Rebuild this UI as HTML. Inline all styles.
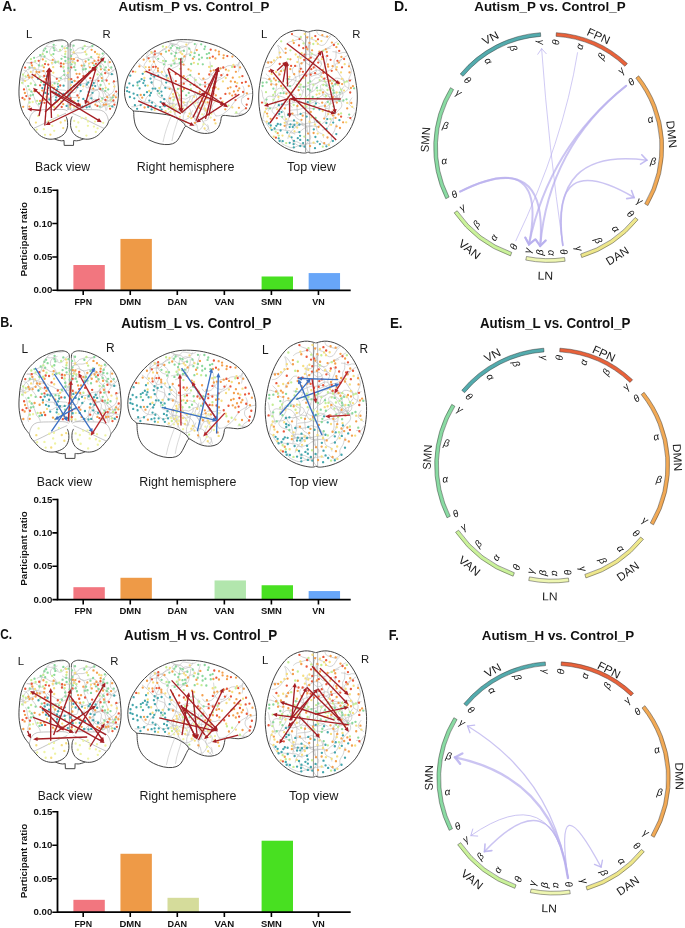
<!DOCTYPE html>
<html><head><meta charset="utf-8"><style>
html,body{margin:0;padding:0;background:#fff;}
svg{display:block;font-family:"Liberation Sans", sans-serif;will-change:transform;}
</style></head><body>
<svg width="685" height="928" viewBox="0 0 685 928">
<defs><g id="bk"><path d="M100.79 108.10C100.81 107.53 101.21 105.72 100.90 104.68C100.58 103.63 99.65 102.70 98.90 101.84C98.15 100.97 97.42 99.85 96.41 99.49C95.40 99.14 93.71 99.16 92.85 99.71C91.99 100.26 91.67 101.72 91.26 102.81C90.85 103.90 90.26 105.14 90.38 106.24C90.50 107.34 91.71 108.88 91.98 109.41M70.57 51.98C71.15 52.13 72.97 52.40 74.06 52.87C75.14 53.34 76.32 53.93 77.07 54.80C77.81 55.67 77.76 57.26 78.54 58.07C79.33 58.88 80.96 58.84 81.76 59.64C82.55 60.44 83.02 61.73 83.33 62.87C83.63 64.00 83.34 65.29 83.58 66.44C83.83 67.60 84.32 68.73 84.80 69.80C85.29 70.87 86.21 72.37 86.49 72.89M99.57 96.20C100.04 96.57 101.42 97.72 102.38 98.45C103.33 99.17 104.22 100.19 105.30 100.55C106.37 100.91 107.74 100.95 108.81 100.61C109.87 100.26 111.03 99.40 111.69 98.48C112.36 97.56 112.22 96.02 112.80 95.06C113.38 94.09 114.78 93.09 115.17 92.69M106.70 104.78C106.77 105.07 107.08 105.95 107.11 106.54C107.14 107.13 106.94 107.72 106.88 108.32C106.82 108.92 106.76 109.82 106.74 110.12M92.33 93.98C91.84 94.27 90.22 94.95 89.37 95.72C88.52 96.49 87.68 97.54 87.22 98.57C86.76 99.60 86.68 100.76 86.61 101.88C86.53 103.00 87.23 104.37 86.78 105.29C86.33 106.22 84.84 106.71 83.89 107.44C82.94 108.17 81.54 109.30 81.07 109.67M102.23 107.33C102.40 106.75 102.65 104.88 103.23 103.87C103.81 102.86 104.69 101.75 105.69 101.29C106.69 100.83 108.06 101.02 109.24 101.11C110.41 101.20 111.58 101.65 112.74 101.85C113.89 102.05 115.61 102.25 116.19 102.33M99.15 87.46C99.59 87.86 100.94 89.03 101.81 89.84C102.68 90.64 103.62 91.40 104.36 92.31C105.11 93.23 105.72 94.34 106.28 95.35C106.84 96.36 107.82 97.38 107.73 98.38C107.63 99.38 106.18 100.27 105.70 101.35C105.22 102.43 105.00 104.27 104.86 104.85M38.31 68.64C38.51 68.10 39.28 66.52 39.50 65.40C39.73 64.28 39.46 63.07 39.67 61.92C39.87 60.77 40.38 59.63 40.75 58.49C41.11 57.36 41.50 56.23 41.87 55.11C42.24 53.98 42.61 52.82 42.97 51.73C43.33 50.63 43.45 49.49 44.04 48.53C44.64 47.56 45.73 46.77 46.54 45.94C47.35 45.12 47.93 44.13 48.90 43.58C49.88 43.04 51.27 43.10 52.38 42.67C53.48 42.24 54.43 41.27 55.55 41.02C56.67 40.77 57.92 41.25 59.10 41.18C60.28 41.11 62.05 40.69 62.64 40.60M57.17 50.08C56.79 49.61 55.87 47.67 54.91 47.29C53.94 46.91 52.26 47.21 51.40 47.77C50.54 48.33 49.96 49.59 49.72 50.65C49.48 51.71 49.51 53.18 49.96 54.14C50.42 55.09 51.66 55.57 52.44 56.40C53.23 57.22 54.22 58.10 54.67 59.09C55.13 60.07 55.07 61.77 55.15 62.31M90.42 89.01C90.99 89.06 92.68 89.12 93.82 89.34C94.97 89.55 96.38 89.75 97.29 90.29C98.20 90.84 98.99 91.65 99.27 92.62C99.54 93.60 99.05 95.00 98.94 96.14C98.83 97.29 98.19 98.59 98.59 99.52C98.98 100.44 100.37 101.00 101.31 101.72C102.25 102.44 103.56 102.92 104.21 103.85C104.87 104.78 104.95 106.13 105.25 107.29C105.55 108.45 105.88 110.22 106.01 110.81M71.75 104.59C71.57 104.83 70.81 105.50 70.66 106.03C70.52 106.57 70.83 107.22 70.90 107.82C70.98 108.41 71.07 109.31 71.10 109.61M103.82 98.20C103.74 97.61 103.61 95.80 103.33 94.65C103.06 93.51 102.84 92.22 102.17 91.35C101.49 90.48 100.34 89.67 99.27 89.44C98.19 89.20 96.76 89.47 95.74 89.94C94.71 90.41 93.98 91.48 93.11 92.28C92.24 93.08 91.06 93.74 90.51 94.74C89.97 95.74 90.28 97.21 89.83 98.27C89.39 99.33 88.48 100.14 87.84 101.09C87.19 102.04 86.70 103.09 85.97 104.00C85.24 104.91 84.43 105.95 83.44 106.56C82.45 107.16 81.16 107.26 80.03 107.63C78.89 108.00 77.75 108.62 76.63 108.79C75.51 108.97 73.86 108.68 73.31 108.65M46.36 71.93C46.80 72.30 47.97 73.56 48.96 74.14C49.95 74.72 51.25 74.89 52.33 75.41C53.40 75.94 54.31 76.88 55.40 77.29C56.48 77.70 57.75 78.07 58.84 77.87C59.94 77.67 61.06 76.84 61.98 76.10C62.90 75.37 63.95 74.47 64.37 73.47C64.79 72.46 64.85 71.07 64.50 70.07C64.15 69.08 62.99 68.41 62.28 67.51C61.56 66.60 61.02 65.49 60.22 64.63C59.42 63.77 58.48 62.71 57.46 62.33C56.43 61.94 55.00 61.87 54.06 62.32C53.11 62.77 52.17 64.60 51.79 65.05M44.24 71.01C43.65 71.13 41.90 71.70 40.73 71.77C39.57 71.84 38.15 71.99 37.25 71.44C36.35 70.88 36.20 69.10 35.32 68.43C34.44 67.76 33.08 67.36 31.96 67.41C30.85 67.46 29.63 68.12 28.61 68.73C27.60 69.34 26.68 70.20 25.87 71.06C25.05 71.92 24.21 72.83 23.72 73.88C23.22 74.93 23.02 76.16 22.91 77.34C22.80 78.51 23.00 79.73 23.04 80.93C23.08 82.13 23.13 83.93 23.15 84.53M53.19 47.44C53.60 47.88 54.72 49.35 55.66 50.05C56.61 50.75 57.83 51.59 58.86 51.65C59.88 51.71 60.98 51.11 61.80 50.40C62.61 49.70 62.95 48.26 63.77 47.42C64.58 46.59 66.21 45.73 66.70 45.39M112.43 82.40C112.71 82.30 113.55 81.98 114.13 81.83C114.71 81.69 115.33 81.67 115.91 81.51C116.48 81.35 117.30 80.97 117.58 80.86M36.64 85.65C36.34 85.14 35.48 83.57 34.82 82.58C34.17 81.59 33.47 80.58 32.68 79.69C31.90 78.80 30.79 78.10 30.10 77.22C29.42 76.34 29.13 75.40 28.58 74.43C28.04 73.45 27.67 72.08 26.82 71.37C25.98 70.66 24.07 70.37 23.52 70.17M20.55 77.50C21.05 77.79 22.53 79.27 23.54 79.25C24.55 79.23 25.54 77.87 26.62 77.38C27.70 76.89 28.89 76.64 30.04 76.31C31.19 75.98 32.45 75.90 33.51 75.41C34.57 74.92 35.47 73.40 36.39 73.35C37.30 73.30 38.56 74.82 38.99 75.11M64.93 73.37C65.33 73.81 66.56 75.14 67.34 76.03C68.12 76.92 68.70 78.01 69.61 78.72C70.52 79.44 71.71 79.92 72.82 80.34C73.93 80.75 75.18 80.79 76.28 81.21C77.39 81.63 78.37 82.40 79.47 82.86C80.56 83.31 81.73 83.94 82.87 83.94C84.00 83.93 85.19 83.30 86.28 82.81C87.36 82.32 88.28 81.39 89.38 80.99C90.48 80.60 91.70 80.62 92.87 80.44C94.04 80.25 95.34 80.36 96.39 79.89C97.44 79.41 98.71 77.98 99.17 77.60M44.14 78.00C43.66 77.69 42.26 76.69 41.24 76.14C40.21 75.58 38.77 75.47 38.00 74.67C37.23 73.87 37.21 72.37 36.65 71.34C36.08 70.31 35.55 69.03 34.62 68.49C33.68 67.95 32.14 67.83 31.04 68.09C29.94 68.36 28.53 69.74 28.03 70.07M29.01 79.19C28.74 79.32 27.92 79.70 27.37 79.93C26.81 80.15 26.26 80.43 25.67 80.54C25.09 80.65 24.46 80.66 23.87 80.59C23.28 80.52 22.71 80.28 22.13 80.14C21.55 80.01 20.66 79.83 20.37 79.77M30.82 90.07C31.14 90.57 32.26 92.03 32.76 93.10C33.25 94.18 33.39 95.39 33.78 96.52C34.16 97.65 34.66 98.75 35.07 99.87C35.47 101.00 35.64 102.26 36.23 103.27C36.83 104.29 38.01 104.98 38.62 105.97C39.23 106.96 39.68 108.67 39.89 109.21M56.53 45.38C55.96 45.55 54.28 46.19 53.11 46.43C51.95 46.66 50.74 46.82 49.55 46.81C48.37 46.80 46.59 46.43 45.99 46.35M91.87 46.93C91.27 46.90 89.48 46.85 88.28 46.76C87.09 46.68 85.87 46.29 84.71 46.40C83.55 46.52 82.46 47.10 81.35 47.45C80.23 47.79 78.96 47.89 77.99 48.49C77.03 49.08 76.41 50.17 75.58 51.00C74.75 51.83 73.77 52.55 73.02 53.47C72.27 54.39 71.33 55.42 71.09 56.50C70.84 57.58 71.14 58.88 71.54 59.95C71.95 61.02 72.79 62.01 73.54 62.93C74.29 63.85 75.64 65.03 76.06 65.45M107.35 73.29C107.65 73.28 108.59 73.37 109.15 73.22C109.71 73.06 110.21 72.64 110.73 72.35C111.25 72.06 111.78 71.77 112.29 71.45C112.80 71.13 113.42 70.90 113.79 70.45C114.15 70.01 114.36 69.07 114.48 68.79M102.61 71.42C102.23 71.89 101.03 73.23 100.33 74.20C99.62 75.17 99.13 76.29 98.40 77.24C97.67 78.18 96.52 78.85 95.94 79.86C95.36 80.87 95.45 82.26 94.90 83.30C94.35 84.34 93.57 85.38 92.66 86.11C91.75 86.84 90.52 87.44 89.42 87.68C88.32 87.92 86.62 88.03 86.04 87.55C85.47 87.08 86.00 85.29 85.99 84.84M64.53 63.10C65.13 63.11 66.97 63.32 68.13 63.14C69.29 62.97 70.57 62.68 71.51 62.03C72.44 61.38 72.91 60.04 73.75 59.25C74.58 58.47 75.51 57.40 76.50 57.31C77.48 57.23 78.54 58.36 79.64 58.73C80.75 59.11 81.96 59.62 83.11 59.58C84.26 59.54 85.39 58.76 86.53 58.49C87.68 58.22 88.84 57.91 89.99 57.95C91.14 57.99 92.66 58.08 93.43 58.73C94.20 59.39 94.42 61.36 94.61 61.88M32.56 73.21C32.65 72.62 33.14 70.85 33.12 69.68C33.10 68.50 32.95 67.18 32.43 66.16C31.92 65.15 30.97 64.20 30.03 63.60C29.09 62.99 27.32 62.71 26.78 62.54M112.83 82.43C113.13 82.94 114.39 84.42 114.63 85.53C114.87 86.64 114.57 87.94 114.26 89.08C113.95 90.21 113.51 91.44 112.78 92.34C112.06 93.24 110.90 93.87 109.90 94.49C108.91 95.10 107.81 95.46 106.80 96.04C105.80 96.62 104.36 97.64 103.87 97.95M55.87 94.58C55.51 94.15 54.11 93.02 53.71 92.00C53.31 90.97 53.69 89.59 53.45 88.43C53.21 87.27 52.83 86.08 52.27 85.03C51.71 83.99 50.77 83.13 50.11 82.16C49.45 81.19 48.94 80.16 48.30 79.21C47.65 78.26 46.72 77.47 46.24 76.43C45.76 75.39 46.00 73.94 45.41 72.97C44.83 72.00 43.77 71.11 42.75 70.62C41.73 70.12 40.43 70.27 39.29 70.00C38.14 69.73 36.97 68.90 35.86 68.99C34.76 69.08 33.17 70.29 32.63 70.56M42.27 84.86C42.74 84.48 44.01 83.01 45.06 82.58C46.10 82.16 47.38 82.37 48.54 82.30C49.71 82.22 50.88 82.17 52.06 82.15C53.24 82.13 54.51 82.28 55.62 82.16C56.72 82.05 57.69 81.87 58.70 81.46C59.71 81.06 60.62 80.22 61.68 79.74C62.73 79.25 63.89 78.74 65.04 78.57C66.19 78.39 67.99 78.67 68.58 78.69M83.41 89.01C82.95 89.39 81.38 90.39 80.64 91.28C79.90 92.18 79.62 93.42 78.97 94.40C78.32 95.37 77.71 96.62 76.73 97.13C75.76 97.64 74.32 97.57 73.15 97.46C71.99 97.34 70.63 97.12 69.74 96.45C68.85 95.77 68.45 94.41 67.80 93.43C67.14 92.44 66.72 91.09 65.81 90.54C64.90 90.00 63.50 90.27 62.32 90.13C61.14 90.00 59.93 89.77 58.75 89.72C57.56 89.68 55.79 89.84 55.20 89.86M106.18 101.71C106.59 102.14 107.73 103.53 108.64 104.30C109.54 105.08 110.61 105.75 111.61 106.33C112.61 106.92 114.15 107.57 114.66 107.82M36.37 57.59C36.93 57.36 38.61 56.37 39.70 56.25C40.78 56.12 41.77 56.55 42.86 56.86C43.95 57.17 45.16 57.58 46.22 58.10C47.28 58.63 48.13 59.60 49.21 60.01C50.29 60.43 51.53 60.39 52.70 60.60C53.87 60.81 55.10 60.93 56.24 61.28C57.37 61.63 58.58 62.04 59.52 62.72C60.45 63.40 61.45 64.91 61.84 65.35M88.41 67.00C88.54 66.43 88.52 64.36 89.14 63.54C89.76 62.73 91.04 62.46 92.13 62.12C93.22 61.78 94.54 61.38 95.67 61.49C96.81 61.59 97.84 62.34 98.93 62.76C100.02 63.18 101.37 63.32 102.23 63.99C103.10 64.67 103.64 65.77 104.12 66.82C104.60 67.86 104.59 69.21 105.11 70.27C105.63 71.33 106.35 72.48 107.24 73.16C108.13 73.85 109.30 74.18 110.42 74.37C111.55 74.55 113.40 74.27 113.99 74.25M28.39 109.66C28.24 109.08 27.49 107.29 27.52 106.17C27.54 105.05 28.28 104.08 28.53 102.95C28.77 101.82 29.07 100.56 29.00 99.39C28.93 98.21 28.41 97.06 28.11 95.90C27.81 94.74 27.44 93.60 27.20 92.42C26.96 91.25 26.98 90.02 26.67 88.87C26.36 87.72 25.56 86.08 25.34 85.52M90.53 87.38C90.60 87.97 90.72 89.74 90.93 90.91C91.13 92.08 91.56 93.21 91.76 94.38C91.96 95.55 91.92 96.80 92.11 97.94C92.31 99.08 92.28 100.51 92.92 101.22C93.57 101.93 94.90 102.16 95.98 102.19C97.07 102.21 98.33 101.71 99.45 101.37C100.56 101.04 102.15 100.38 102.69 100.18M70.22 55.11C70.77 54.89 72.42 54.18 73.54 53.81C74.67 53.43 75.81 53.00 76.97 52.86C78.13 52.71 79.34 53.08 80.51 52.94C81.68 52.81 82.97 52.60 83.99 52.04C85.01 51.49 85.76 50.41 86.64 49.61C87.52 48.81 88.33 47.94 89.27 47.23C90.22 46.52 91.80 45.68 92.31 45.37M85.62 62.63C85.22 63.08 83.81 64.32 83.25 65.33C82.69 66.34 82.35 67.56 82.26 68.69C82.16 69.82 82.37 70.99 82.68 72.11C82.99 73.22 83.65 74.30 84.13 75.39C84.62 76.49 85.14 77.56 85.60 78.67C86.06 79.77 86.57 80.91 86.90 82.02C87.23 83.13 87.07 84.32 87.57 85.33C88.07 86.34 89.08 87.20 89.90 88.07C90.73 88.94 91.52 90.13 92.53 90.53C93.53 90.93 94.91 90.86 95.95 90.49C97.00 90.12 98.00 89.20 98.78 88.32C99.56 87.45 100.34 85.76 100.65 85.25M79.16 82.28C78.83 82.77 77.58 84.17 77.14 85.25C76.71 86.34 76.83 87.64 76.55 88.80C76.27 89.96 76.25 91.59 75.48 92.24C74.71 92.88 73.11 92.69 71.93 92.67C70.74 92.65 69.49 91.91 68.37 92.09C67.26 92.27 66.32 93.29 65.24 93.74C64.16 94.19 63.04 94.46 61.91 94.78C60.77 95.10 59.60 95.53 58.42 95.65C57.24 95.76 55.94 95.19 54.83 95.46C53.72 95.73 52.84 96.87 51.74 97.28C50.64 97.69 48.80 97.81 48.21 97.92M100.03 75.09C100.26 75.61 100.66 77.35 101.38 78.20C102.09 79.04 103.38 80.21 104.33 80.15C105.28 80.10 106.34 78.78 107.08 77.87C107.82 76.96 108.73 75.78 108.77 74.70C108.82 73.62 108.11 72.27 107.36 71.41C106.61 70.55 105.30 70.18 104.28 69.55C103.26 68.91 102.10 68.42 101.25 67.60C100.41 66.79 99.99 65.55 99.22 64.64C98.45 63.72 97.07 62.55 96.64 62.13M113.59 71.12C113.13 70.73 111.70 69.63 110.84 68.80C109.97 67.98 108.85 67.19 108.39 66.18C107.92 65.16 107.99 63.84 108.06 62.68C108.12 61.53 108.65 59.83 108.77 59.26M99.99 65.97C100.06 65.38 100.26 63.62 100.39 62.43C100.52 61.24 100.32 59.91 100.77 58.85C101.22 57.79 102.33 57.02 103.07 56.09C103.82 55.15 104.87 53.70 105.23 53.22M105.98 96.79C106.55 96.96 108.25 97.74 109.42 97.82C110.59 97.91 111.89 97.65 112.98 97.31C114.07 96.96 115.19 96.54 115.98 95.78C116.77 95.01 117.42 93.20 117.71 92.69M65.08 81.80C65.06 81.20 64.70 79.32 65.00 78.21C65.29 77.11 66.16 76.13 66.85 75.19C67.53 74.24 68.47 73.51 69.11 72.53C69.74 71.55 69.90 70.20 70.63 69.31C71.37 68.42 72.78 68.04 73.52 67.17C74.26 66.31 75.05 65.15 75.07 64.11C75.08 63.07 74.34 61.73 73.61 60.91C72.88 60.09 71.70 59.76 70.70 59.17C69.69 58.58 68.70 57.74 67.59 57.37C66.48 57.00 65.12 57.32 64.04 56.94C62.96 56.57 61.60 55.41 61.11 55.11M97.59 76.98C97.63 77.58 97.86 79.44 97.81 80.57C97.75 81.70 97.14 82.69 97.25 83.78C97.36 84.87 98.00 86.02 98.48 87.11C98.96 88.19 99.28 89.64 100.14 90.28C101.01 90.91 102.54 90.59 103.68 90.92C104.82 91.25 106.05 91.58 106.98 92.26C107.91 92.94 108.65 94.04 109.28 95.01C109.91 95.99 110.27 97.09 110.76 98.14C111.25 99.18 112.40 100.36 112.20 101.26C112.01 102.17 110.55 102.92 109.57 103.56C108.59 104.20 107.39 104.59 106.31 105.09C105.24 105.59 104.19 106.06 103.12 106.57C102.05 107.09 100.44 107.92 99.90 108.19M74.82 54.30C74.63 53.75 74.09 52.10 73.72 50.97C73.35 49.85 72.91 48.70 72.60 47.55C72.28 46.41 71.95 44.68 71.82 44.11M42.69 66.22C42.09 66.13 40.13 66.16 39.13 65.68C38.13 65.21 37.65 63.96 36.69 63.36C35.72 62.77 34.46 62.26 33.31 62.10C32.17 61.94 31.01 62.27 29.84 62.40C28.67 62.54 26.87 62.82 26.28 62.90M61.33 93.41C60.74 93.53 58.88 94.32 57.80 94.11C56.72 93.89 55.84 92.76 54.84 92.12C53.84 91.48 52.89 90.56 51.78 90.25C50.67 89.95 49.34 90.50 48.19 90.27C47.04 90.04 45.43 89.09 44.88 88.85M95.38 65.11C95.50 65.69 95.67 67.51 96.11 68.60C96.56 69.68 97.27 70.76 98.07 71.61C98.88 72.46 100.15 72.86 100.95 73.71C101.75 74.55 102.53 75.57 102.88 76.66C103.23 77.75 102.79 79.09 103.04 80.23C103.28 81.38 103.92 82.43 104.36 83.52C104.81 84.60 105.49 86.20 105.71 86.73" stroke="#bdbdbd" stroke-width="0.65" fill="none"/><path d="M68.1 46V110.0M70.1 46V110.0" stroke="#7a7a7a" stroke-width="0.7" fill="none"/><path d="M68.10 46.50C68.07 46.02 68.12 44.37 67.90 43.60C67.68 42.83 67.35 42.40 66.80 41.90C66.25 41.40 65.62 40.93 64.60 40.60C63.58 40.27 62.63 39.83 60.70 39.90C58.77 39.97 55.50 40.38 53.00 41.00C50.50 41.62 48.12 42.52 45.70 43.60C43.28 44.68 40.70 46.02 38.50 47.50C36.30 48.98 34.33 50.75 32.50 52.50C30.67 54.25 28.95 56.10 27.50 58.00C26.05 59.90 24.85 61.73 23.80 63.90C22.75 66.07 21.87 68.48 21.20 71.00C20.53 73.52 20.15 76.33 19.80 79.00C19.45 81.67 19.23 84.33 19.10 87.00C18.97 89.67 18.88 92.50 19.00 95.00C19.12 97.50 19.43 99.83 19.80 102.00C20.17 104.17 20.53 105.95 21.20 108.00C21.87 110.05 22.92 112.60 23.80 114.30C24.68 116.00 25.63 117.03 26.50 118.20C27.37 119.37 28.58 120.78 29.00 121.30M70.08 46.50C70.12 46.02 70.07 44.37 70.28 43.60C70.50 42.83 70.82 42.40 71.37 41.90C71.91 41.40 72.53 40.93 73.53 40.60C74.53 40.27 75.47 39.83 77.37 39.90C79.28 39.97 82.50 40.38 84.96 41.00C87.42 41.62 89.77 42.52 92.15 43.60C94.53 44.68 97.07 46.02 99.24 47.50C101.41 48.98 103.35 50.75 105.15 52.50C106.96 54.25 108.65 56.10 110.08 58.00C111.50 59.90 112.69 61.73 113.72 63.90C114.75 66.07 115.62 68.48 116.28 71.00C116.94 73.52 117.32 76.33 117.66 79.00C118.01 81.67 118.22 84.33 118.35 87.00C118.48 89.67 118.56 92.50 118.45 95.00C118.33 97.50 118.02 99.83 117.66 102.00C117.30 104.17 116.94 105.95 116.28 108.00C115.62 110.05 114.59 112.60 113.72 114.30C112.85 116.00 111.91 117.03 111.06 118.20C110.21 119.37 109.01 120.78 108.60 121.30M29.00 121.30C29.25 121.92 29.77 123.80 30.50 125.00C31.23 126.20 32.18 127.08 33.40 128.50C34.62 129.92 36.45 132.17 37.80 133.50C39.15 134.83 40.18 135.68 41.50 136.50C42.82 137.32 44.28 137.95 45.70 138.40C47.12 138.85 48.55 139.12 50.00 139.20C51.45 139.28 52.98 139.17 54.40 138.90C55.82 138.63 57.30 138.08 58.50 137.60C59.70 137.12 60.60 136.68 61.60 136.00C62.60 135.32 63.68 134.50 64.50 133.50C65.32 132.50 65.98 131.30 66.50 130.00C67.02 128.70 67.47 127.37 67.60 125.70C67.73 124.03 67.57 121.53 67.30 120.00C67.03 118.47 66.22 117.08 66.00 116.50M108.60 121.30C108.35 121.92 107.84 123.80 107.12 125.00C106.40 126.20 105.46 127.08 104.26 128.50C103.07 129.92 101.26 132.17 99.93 133.50C98.60 134.83 97.58 135.68 96.29 136.50C94.99 137.32 93.54 137.95 92.15 138.40C90.75 138.85 89.34 139.12 87.91 139.20C86.49 139.28 84.97 139.17 83.58 138.90C82.18 138.63 80.72 138.08 79.54 137.60C78.36 137.12 77.47 136.68 76.49 136.00C75.50 135.32 74.44 134.50 73.63 133.50C72.83 132.50 72.17 131.30 71.66 130.00C71.15 128.70 70.71 127.37 70.58 125.70C70.45 124.03 70.61 121.53 70.87 120.00C71.14 118.47 71.94 117.08 72.15 116.50M54.40 138.90C55.00 139.12 56.82 139.88 58.00 140.20C59.18 140.52 60.50 140.75 61.50 140.80C62.50 140.85 63.58 140.55 64.00 140.50M83.58 138.90C82.99 139.12 81.20 139.88 80.03 140.20C78.87 140.52 77.57 140.75 76.59 140.80C75.60 140.85 74.53 140.55 74.12 140.50M64.0 140.3L64.2 145.4L73.5 145.4L73.7 140.3" stroke="#3d3d3d" stroke-width="0.95" fill="none"/><path d="M29.00 121.30C29.22 120.50 29.72 117.92 30.30 116.50C30.88 115.08 31.55 113.78 32.50 112.80C33.45 111.82 34.58 111.10 36.00 110.60C37.42 110.10 38.67 109.97 41.00 109.80C43.33 109.63 47.17 109.67 50.00 109.60C52.83 109.53 55.67 109.40 58.00 109.40C60.33 109.40 62.42 109.33 64.00 109.60C65.58 109.87 66.92 110.77 67.50 111.00M108.60 121.30C108.39 120.50 107.89 117.92 107.32 116.50C106.74 115.08 106.09 113.78 105.15 112.80C104.22 111.82 103.10 111.10 101.70 110.60C100.31 110.10 99.08 109.97 96.78 109.80C94.48 109.63 90.70 109.67 87.91 109.60C85.12 109.53 82.33 109.40 80.03 109.40C77.74 109.40 75.68 109.33 74.12 109.60C72.56 109.87 71.25 110.77 70.68 111.00M33.40 128.50C34.83 127.83 38.90 126.00 42.00 124.50C45.10 123.00 49.00 120.95 52.00 119.50C55.00 118.05 57.67 116.85 60.00 115.80C62.33 114.75 65.00 113.63 66.00 113.20M104.26 128.50C102.85 127.83 98.85 126.00 95.79 124.50C92.74 123.00 88.90 120.95 85.94 119.50C82.99 118.05 80.36 116.85 78.06 115.80C75.77 114.75 73.14 113.63 72.15 113.20" stroke="#8a8a8a" stroke-width="0.5" fill="none"/><path d="M51.3 55.1h0M37.1 100.9h0M30.8 83.5h0M97.6 74.4h0M110.6 99.8h0M63.5 67.0h0M84.7 46.0h0M45.8 61.3h0M35.2 61.1h0M68.6 62.4h0M42.5 65.3h0M58.2 61.7h0M39.7 77.0h0M22.1 82.8h0M29.3 89.6h0M31.0 59.2h0M29.6 102.5h0M25.6 76.4h0M81.8 81.0h0M23.0 74.7h0M109.4 106.2h0M65.2 54.1h0M75.0 63.1h0M60.1 49.9h0M86.4 54.4h0M42.8 54.2h0" stroke="#C4EE93" stroke-width="2.30" stroke-linecap="round" fill="none"/><path d="M26.3 96.1h0M31.4 62.8h0M113.4 100.5h0M70.4 104.8h0M98.5 80.8h0M44.2 76.0h0M38.7 60.8h0M48.3 64.6h0M70.7 98.2h0M29.7 98.7h0M113.9 81.4h0M77.4 95.4h0M106.6 80.5h0M116.2 91.6h0M25.1 67.6h0M77.7 77.4h0M71.3 79.1h0M43.8 81.6h0M60.9 66.4h0M56.8 78.8h0M24.0 89.4h0M114.4 104.7h0M22.5 97.9h0M44.5 102.8h0M77.7 60.7h0M71.2 67.3h0M45.0 64.1h0M90.3 78.2h0M60.2 85.5h0M67.9 91.3h0M97.4 105.9h0M83.4 76.1h0M61.0 63.3h0M100.3 88.9h0M61.7 106.9h0M40.1 85.3h0M50.7 70.9h0M88.4 102.5h0M110.1 108.8h0M105.4 99.9h0M98.4 60.3h0M95.9 63.8h0M105.2 73.2h0" stroke="#E9583B" stroke-width="2.30" stroke-linecap="round" fill="none"/><path d="M24.9 93.0h0M43.4 100.2h0M34.2 91.1h0M100.9 69.3h0M32.0 65.4h0M42.3 90.6h0M29.4 106.6h0M35.2 75.2h0M29.2 77.7h0M106.1 104.4h0M113.7 95.3h0M92.7 63.1h0M54.3 87.8h0M98.6 57.4h0M63.2 104.2h0M52.8 59.8h0M52.1 105.4h0M39.2 72.2h0M94.7 69.9h0M73.9 59.2h0M115.9 97.3h0M39.1 92.8h0M32.3 77.4h0M95.4 104.7h0M40.1 100.9h0M108.8 69.9h0M43.9 67.3h0M74.6 81.0h0M28.1 75.4h0M79.5 73.9h0M63.6 63.9h0M76.6 73.8h0M78.8 97.6h0M23.2 106.8h0M36.5 71.9h0M93.2 88.6h0M89.9 67.3h0M94.5 60.8h0M103.8 104.8h0M42.8 59.4h0M91.6 49.8h0M81.7 65.6h0M95.0 52.0h0M45.7 79.1h0M43.5 71.1h0M88.0 95.5h0M107.2 97.1h0M80.0 104.7h0M24.5 99.4h0M71.0 89.8h0M78.6 81.3h0M85.6 61.5h0M71.5 58.8h0M109.8 62.2h0M101.8 78.1h0" stroke="#F4A04E" stroke-width="2.30" stroke-linecap="round" fill="none"/><path d="M62.2 46.4h0M104.5 69.8h0M65.0 56.9h0M63.8 97.5h0M34.1 57.8h0M60.8 78.3h0M67.2 48.1h0M55.4 62.5h0M91.2 57.1h0M101.3 61.5h0M102.7 53.6h0M35.2 85.0h0M29.5 67.3h0M96.6 67.8h0M100.6 66.5h0M64.3 75.1h0M111.3 67.5h0M71.5 64.4h0M100.6 85.0h0M102.1 80.9h0M53.7 44.8h0M44.5 56.4h0M85.8 69.0h0M45.4 48.6h0M33.0 94.8h0M102.3 98.5h0M64.0 71.2h0M112.7 97.5h0M83.2 69.5h0M105.0 62.0h0M108.2 89.4h0M43.8 50.6h0M89.2 71.7h0M68.4 58.9h0M94.0 65.3h0M38.9 65.4h0M73.6 45.7h0M82.7 48.7h0M54.6 83.4h0M41.2 82.1h0M101.6 58.5h0M28.2 86.1h0M30.6 95.5h0M54.4 50.3h0M39.0 103.8h0M53.4 54.1h0M92.4 46.0h0M71.1 56.1h0M70.8 49.8h0M99.7 106.6h0M61.5 58.8h0M84.4 65.6h0M74.3 67.2h0M102.8 88.8h0M40.2 55.2h0M75.5 70.1h0M101.4 74.4h0M53.6 48.1h0M65.4 61.0h0M105.3 90.8h0M68.4 68.2h0M105.9 67.4h0M88.6 59.8h0M31.3 91.6h0M46.9 52.0h0M57.8 83.8h0" stroke="#8BD89D" stroke-width="2.30" stroke-linecap="round" fill="none"/><path d="M30.8 71.9h0M53.2 67.2h0M51.9 62.8h0M114.3 86.6h0M99.3 54.6h0M109.1 83.8h0M65.5 51.6h0M89.1 63.6h0M53.3 72.7h0M25.1 80.9h0M85.2 51.9h0M83.3 86.3h0M72.6 62.1h0M59.0 81.0h0M69.0 79.4h0M70.1 107.1h0M54.2 107.0h0M73.7 52.3h0M97.1 54.0h0M61.1 101.5h0M64.8 48.3h0M105.7 87.8h0M34.6 67.9h0M68.0 72.9h0M52.4 85.4h0M46.3 96.8h0M70.9 85.2h0M60.7 122.5h0M50.4 134.7h0M63.2 128.1h0M65.0 120.6h0M35.9 122.6h0" stroke="#F5DE80" stroke-width="2.30" stroke-linecap="round" fill="none"/><path d="M56.2 97.3h0M86.8 84.5h0M77.4 87.3h0M78.2 100.8h0M46.8 83.2h0M69.0 95.6h0M91.3 98.3h0M74.2 85.9h0M89.4 106.7h0M48.3 87.9h0M57.1 89.5h0M49.4 99.5h0M48.0 94.0h0M38.0 78.8h0M93.7 83.0h0M71.3 101.1h0M41.3 103.0h0M92.6 92.8h0M46.9 76.4h0M44.1 84.8h0M88.3 82.6h0M56.0 92.7h0M58.9 94.2h0M49.6 83.7h0M63.6 85.7h0M80.7 91.1h0M45.3 92.9h0M95.2 86.1h0M80.4 85.0h0M83.3 98.9h0M72.0 82.2h0M88.7 92.1h0M42.3 88.1h0M96.1 100.7h0M92.1 85.3h0M86.7 107.3h0M82.5 106.7h0M111.8 74.2h0M55.7 100.2h0M58.2 86.7h0M66.6 105.9h0M63.5 93.9h0M112.3 106.4h0" stroke="#44A6AD" stroke-width="2.30" stroke-linecap="round" fill="none"/><path d="M101.3 101.2h0M74.0 107.2h0M74.3 100.8h0M57.6 102.0h0M32.7 102.0h0M54.2 130.8h0M48.5 121.2h0M57.9 115.5h0M45.0 134.8h0M36.7 129.6h0M43.8 129.2h0M52.3 125.8h0M38.1 116.0h0M53.1 120.3h0M95.8 131.9h0M79.1 131.0h0M95.0 121.6h0M93.9 126.6h0M81.7 118.2h0M85.8 117.9h0M74.2 120.9h0M78.3 122.5h0M87.9 125.8h0M103.2 122.8h0M86.4 135.6h0M76.3 127.0h0M88.0 121.5h0M97.6 128.3h0" stroke="#EEF4A4" stroke-width="2.30" stroke-linecap="round" fill="none"/></g><g id="sd"><path d="M184.67 48.98C184.18 49.31 182.73 50.74 181.68 50.98C180.63 51.22 179.22 51.01 178.37 50.39C177.53 49.78 177.41 48.14 176.64 47.27C175.87 46.41 174.77 45.80 173.75 45.20C172.73 44.60 171.52 44.21 170.53 43.67C169.54 43.13 168.26 42.25 167.81 41.96M209.97 61.58C210.03 62.18 210.26 63.96 210.33 65.16C210.41 66.36 210.36 67.57 210.41 68.76C210.46 69.95 210.37 71.17 210.63 72.31C210.89 73.45 211.24 74.78 211.99 75.62C212.73 76.46 214.00 76.96 215.11 77.35C216.22 77.73 217.54 78.12 218.66 77.93C219.78 77.74 221.04 77.05 221.83 76.23C222.62 75.42 223.15 73.58 223.42 73.05M154.14 78.43C153.73 77.99 152.52 76.65 151.68 75.80C150.84 74.95 149.90 74.20 149.08 73.34C148.25 72.48 147.54 71.50 146.72 70.63C145.90 69.77 145.02 68.95 144.15 68.14C143.27 67.33 142.40 66.54 141.47 65.79C140.54 65.04 139.06 64.01 138.58 63.65M194.16 116.60C194.75 116.56 196.62 116.11 197.71 116.37C198.80 116.63 199.85 117.40 200.71 118.17C201.58 118.94 202.46 119.98 202.90 120.99C203.34 121.99 203.54 123.11 203.36 124.19C203.18 125.27 202.49 126.47 201.84 127.45C201.19 128.43 200.38 129.54 199.44 130.08C198.51 130.61 196.75 130.58 196.22 130.68M237.02 66.63C237.14 66.36 237.47 65.52 237.72 64.97C237.97 64.43 238.27 63.90 238.53 63.37C238.80 62.83 239.18 62.01 239.31 61.74M195.29 95.20C194.70 95.30 192.86 95.43 191.75 95.80C190.63 96.18 189.65 96.89 188.60 97.45C187.55 98.01 186.55 99.02 185.44 99.16C184.33 99.30 183.09 98.25 181.95 98.30C180.80 98.35 179.64 99.57 178.55 99.46C177.47 99.36 176.56 98.03 175.45 97.66C174.34 97.29 172.78 96.80 171.88 97.24C170.98 97.69 170.44 99.26 170.07 100.35C169.70 101.44 169.67 102.62 169.67 103.78C169.67 104.95 169.48 106.46 170.07 107.31C170.67 108.17 172.38 108.22 173.25 108.94C174.11 109.66 175.05 110.61 175.26 111.65C175.46 112.68 174.60 114.57 174.47 115.16M242.79 85.79C243.00 86.35 243.82 88.00 244.04 89.13C244.26 90.27 244.23 91.46 244.09 92.60C243.95 93.75 243.62 94.91 243.20 96.01C242.78 97.10 241.84 98.05 241.57 99.17C241.31 100.29 241.29 101.66 241.62 102.73C241.95 103.80 242.79 104.69 243.54 105.59C244.29 106.48 245.70 107.68 246.13 108.09M155.50 50.81C155.01 51.14 153.52 52.13 152.52 52.79C151.53 53.45 150.49 54.05 149.54 54.77C148.58 55.49 147.22 56.14 146.80 57.11C146.39 58.08 147.37 59.54 147.05 60.60C146.73 61.65 145.42 62.38 144.87 63.41C144.31 64.45 143.91 66.26 143.72 66.82M173.31 86.69C172.88 86.28 171.59 85.05 170.73 84.23C169.86 83.41 168.78 82.69 168.11 81.76C167.43 80.84 166.95 79.79 166.68 78.68C166.40 77.57 166.76 76.22 166.45 75.10C166.14 73.98 165.28 73.04 164.82 71.95C164.36 70.85 163.65 69.62 163.71 68.53C163.77 67.44 165.02 66.52 165.19 65.41C165.36 64.29 164.84 63.03 164.71 61.84C164.58 60.65 164.93 59.23 164.42 58.26C163.92 57.30 162.57 56.86 161.70 56.07C160.83 55.28 160.20 54.06 159.21 53.53C158.21 53.01 156.88 53.15 155.73 52.92C154.58 52.69 153.38 52.50 152.29 52.16C151.19 51.82 149.67 51.09 149.15 50.88M193.64 122.36C194.12 122.67 195.88 123.35 196.51 124.24C197.13 125.13 197.08 126.57 197.38 127.69C197.69 128.82 198.17 130.44 198.33 130.99M168.65 73.83C169.06 74.26 170.35 75.52 171.11 76.40C171.86 77.28 172.81 78.06 173.17 79.11C173.53 80.16 173.25 81.54 173.27 82.71C173.30 83.87 173.44 84.94 173.30 86.08C173.16 87.23 172.77 88.44 172.44 89.58C172.11 90.71 171.81 91.82 171.30 92.87C170.79 93.93 169.92 94.85 169.39 95.91C168.87 96.97 168.21 98.09 168.15 99.22C168.09 100.36 168.36 101.88 169.04 102.71C169.71 103.54 171.47 103.40 172.22 104.20C172.97 104.99 172.85 106.58 173.53 107.47C174.21 108.35 175.30 108.92 176.30 109.52C177.30 110.12 178.50 110.53 179.54 111.07C180.59 111.62 181.48 112.55 182.58 112.79C183.68 113.03 185.55 112.56 186.14 112.51M192.76 41.78C192.19 41.96 190.50 42.82 189.34 42.90C188.19 42.98 186.98 42.45 185.82 42.26C184.65 42.07 183.50 41.88 182.34 41.75C181.19 41.62 179.85 41.08 178.88 41.49C177.91 41.90 177.51 43.80 176.53 44.22C175.55 44.64 174.14 44.27 173.02 44.00C171.90 43.72 170.33 42.80 169.79 42.56M175.27 62.95C175.18 62.44 174.75 60.99 174.71 59.92C174.67 58.84 174.84 57.63 175.02 56.47C175.20 55.31 175.59 54.11 175.80 52.97C176.02 51.82 175.82 50.51 176.32 49.60C176.82 48.68 177.86 48.07 178.80 47.48C179.74 46.89 180.84 46.18 181.96 46.05C183.07 45.92 184.35 46.48 185.49 46.72C186.64 46.97 187.99 46.87 188.83 47.52C189.67 48.18 190.40 49.59 190.53 50.63C190.66 51.66 190.32 53.11 189.60 53.72C188.87 54.34 187.17 53.82 186.20 54.31C185.23 54.81 184.34 55.73 183.76 56.70C183.19 57.68 183.21 59.04 182.74 60.14C182.28 61.23 181.27 62.75 180.97 63.27M238.39 72.14C238.50 71.55 238.98 69.80 239.04 68.62C239.11 67.43 238.67 66.20 238.78 65.03C238.88 63.85 239.54 62.14 239.69 61.56M216.47 116.42C216.10 115.95 214.83 114.62 214.26 113.60C213.69 112.57 213.60 111.30 213.06 110.26C212.51 109.23 211.84 108.16 210.98 107.37C210.12 106.58 208.82 106.25 207.89 105.52C206.96 104.78 206.26 103.27 205.38 102.96C204.51 102.65 203.39 103.09 202.65 103.66C201.91 104.24 201.25 105.38 200.94 106.40C200.63 107.41 200.83 109.20 200.81 109.76M152.46 63.56C152.26 64.12 151.35 65.76 151.23 66.91C151.11 68.06 151.27 69.43 151.75 70.46C152.23 71.49 153.15 72.74 154.12 73.09C155.08 73.45 156.44 72.73 157.52 72.61C158.61 72.50 159.76 71.95 160.62 72.41C161.47 72.87 161.78 74.61 162.65 75.38C163.52 76.14 164.79 76.45 165.86 76.99C166.92 77.53 168.09 77.94 169.04 78.62C169.99 79.29 170.72 80.27 171.56 81.04C172.41 81.82 173.13 82.72 174.13 83.25C175.13 83.79 176.44 84.36 177.54 84.27C178.65 84.18 179.64 83.08 180.77 82.71C181.90 82.35 183.14 82.30 184.31 82.08C185.48 81.86 187.21 81.49 187.79 81.37M200.78 109.21C200.52 108.68 199.71 107.11 199.19 106.04C198.67 104.97 197.67 103.89 197.65 102.80C197.63 101.71 198.76 100.63 199.06 99.50C199.36 98.38 199.40 97.21 199.46 96.03C199.52 94.86 199.35 93.64 199.42 92.46C199.49 91.28 199.80 89.55 199.87 88.97M205.13 104.77C204.93 105.33 203.96 107.03 203.90 108.14C203.84 109.25 204.11 110.58 204.76 111.44C205.41 112.29 207.18 112.39 207.82 113.28C208.47 114.16 208.73 115.61 208.65 116.74C208.57 117.86 208.09 119.35 207.35 120.03C206.60 120.72 204.71 120.71 204.18 120.85M149.81 82.20C150.31 82.53 152.14 83.30 152.82 84.17C153.51 85.05 153.98 86.35 153.94 87.45C153.90 88.55 153.13 89.72 152.58 90.78C152.03 91.84 151.43 92.94 150.64 93.81C149.85 94.68 148.64 95.15 147.84 96.01C147.05 96.86 146.39 97.88 145.86 98.93C145.33 99.99 145.34 101.40 144.66 102.32C143.98 103.25 142.85 103.96 141.79 104.49C140.74 105.02 139.47 105.13 138.34 105.50C137.22 105.87 136.20 106.51 135.05 106.71C133.91 106.90 132.06 106.68 131.46 106.67M152.60 101.76C152.04 101.91 150.37 102.55 149.21 102.67C148.05 102.79 146.78 102.73 145.63 102.48C144.47 102.23 143.28 101.82 142.29 101.19C141.31 100.55 140.46 99.61 139.71 98.69C138.96 97.77 138.11 96.16 137.79 95.65M218.22 98.99C217.64 98.88 215.89 98.18 214.79 98.29C213.68 98.40 212.72 99.54 211.60 99.67C210.48 99.80 209.26 99.11 208.08 99.05C206.90 98.99 205.59 98.89 204.52 99.29C203.46 99.70 202.69 100.94 201.68 101.49C200.67 102.04 199.53 102.65 198.47 102.61C197.40 102.58 195.82 101.51 195.29 101.29M215.17 115.74C215.77 115.74 217.60 115.96 218.76 115.76C219.92 115.57 221.11 115.13 222.14 114.58C223.17 114.03 224.01 113.17 224.97 112.47C225.93 111.76 227.00 111.13 227.89 110.35C228.77 109.58 229.56 108.73 230.29 107.80C231.01 106.87 231.57 105.77 232.26 104.79C232.94 103.81 233.67 102.86 234.41 101.91C235.14 100.97 235.78 99.91 236.66 99.13C237.55 98.35 238.67 97.84 239.69 97.24C240.71 96.64 241.83 96.21 242.78 95.52C243.74 94.83 245.00 93.50 245.44 93.10M160.59 76.60C160.72 77.18 161.26 78.92 161.40 80.11C161.54 81.29 161.57 82.54 161.42 83.71C161.26 84.88 160.78 85.98 160.47 87.12C160.16 88.27 160.11 89.56 159.56 90.58C159.01 91.61 157.35 92.30 157.19 93.28C157.02 94.27 157.83 95.72 158.60 96.50C159.37 97.27 160.71 97.54 161.83 97.91C162.95 98.28 164.46 98.04 165.30 98.71C166.14 99.37 166.15 101.01 166.89 101.92C167.62 102.83 169.08 103.21 169.69 104.16C170.30 105.12 170.42 107.05 170.57 107.63M171.82 68.61C172.37 68.38 174.04 67.75 175.12 67.23C176.19 66.71 177.33 66.20 178.27 65.49C179.21 64.79 179.82 63.59 180.76 62.99C181.69 62.39 183.12 62.58 183.90 61.88C184.68 61.17 185.08 59.89 185.43 58.78C185.77 57.67 185.68 56.39 185.95 55.22C186.21 54.05 186.83 52.95 187.00 51.78C187.17 50.61 186.99 48.81 186.99 48.21M186.12 88.85C186.67 89.01 188.37 89.40 189.43 89.78C190.50 90.15 191.60 90.45 192.52 91.11C193.44 91.77 194.28 92.81 194.95 93.75C195.62 94.68 196.35 95.65 196.53 96.72C196.72 97.79 196.53 99.14 196.05 100.16C195.57 101.17 193.88 101.82 193.67 102.81C193.45 103.80 194.32 105.00 194.76 106.09C195.19 107.18 195.90 108.22 196.27 109.35C196.65 110.49 196.86 112.29 196.98 112.88M225.48 75.86C225.01 76.20 223.68 77.31 222.68 77.92C221.68 78.54 220.50 78.93 219.48 79.55C218.46 80.17 217.33 80.84 216.56 81.66C215.79 82.48 215.47 83.52 214.85 84.47C214.23 85.43 213.18 86.91 212.85 87.40M182.34 50.68C181.82 50.98 180.32 52.08 179.23 52.47C178.14 52.87 176.86 53.30 175.82 53.08C174.77 52.85 173.91 51.79 172.95 51.11C172.00 50.42 170.77 49.79 170.07 48.97C169.37 48.15 168.51 47.02 168.74 46.18C168.98 45.34 170.44 44.24 171.49 43.93C172.54 43.63 173.88 44.12 175.04 44.35C176.21 44.59 177.46 44.77 178.48 45.32C179.50 45.88 180.16 47.45 181.19 47.68C182.22 47.91 183.54 47.15 184.64 46.71C185.74 46.26 187.00 45.82 187.79 45.00C188.57 44.19 189.09 42.34 189.35 41.81M166.53 48.72C165.98 48.94 164.28 49.57 163.22 50.05C162.17 50.53 160.90 50.82 160.19 51.60C159.47 52.37 159.57 53.80 158.92 54.70C158.27 55.60 157.32 56.63 156.28 57.00C155.24 57.38 153.86 56.89 152.68 56.97C151.51 57.04 150.40 57.50 149.24 57.47C148.08 57.43 146.31 56.89 145.72 56.77M204.58 129.68C204.85 129.81 205.69 130.14 206.20 130.45C206.71 130.77 207.18 131.16 207.63 131.55C208.09 131.94 208.72 132.58 208.93 132.79M167.65 64.78C168.24 64.67 170.01 64.30 171.18 64.13C172.36 63.96 173.51 63.84 174.70 63.78C175.88 63.72 177.09 63.69 178.28 63.78C179.47 63.87 180.67 64.07 181.84 64.33C183.01 64.59 184.72 65.16 185.30 65.32M218.44 79.43C217.99 79.80 216.73 80.99 215.77 81.69C214.82 82.38 213.82 83.31 212.71 83.58C211.61 83.86 210.29 83.20 209.14 83.36C208.00 83.51 206.96 84.27 205.84 84.53C204.71 84.78 203.54 84.95 202.39 84.87C201.23 84.79 199.94 84.57 198.90 84.04C197.87 83.52 196.95 82.62 196.16 81.73C195.37 80.85 194.94 79.63 194.18 78.73C193.41 77.83 192.54 76.89 191.55 76.34C190.56 75.79 189.22 75.20 188.22 75.42C187.22 75.63 186.37 76.80 185.53 77.63C184.70 78.45 183.62 79.93 183.23 80.39M189.94 95.56C189.93 96.15 190.17 98.00 189.85 99.11C189.54 100.22 188.55 101.13 188.06 102.20C187.57 103.28 187.24 104.43 186.93 105.57C186.62 106.70 186.52 107.86 186.20 108.99C185.87 110.12 185.42 111.27 184.95 112.37C184.48 113.47 183.66 114.45 183.38 115.58C183.11 116.72 183.30 117.98 183.29 119.16C183.28 120.35 183.31 122.12 183.31 122.71M183.53 122.15C183.72 122.38 184.28 123.09 184.65 123.56C185.03 124.03 185.43 124.48 185.78 124.96C186.13 125.45 186.60 126.22 186.77 126.47M243.08 97.86C243.53 97.47 244.77 96.17 245.75 95.52C246.74 94.88 247.88 94.35 249.00 93.99C250.12 93.63 251.91 93.47 252.49 93.37M194.72 77.21C194.66 77.81 194.26 79.63 194.35 80.79C194.44 81.95 194.65 83.26 195.28 84.16C195.92 85.06 197.31 85.40 198.18 86.20C199.04 87.00 199.75 88.03 200.45 88.98C201.16 89.93 201.76 90.91 202.43 91.88C203.10 92.86 203.95 93.79 204.47 94.85C205.00 95.91 205.40 97.67 205.59 98.24M207.30 124.38C207.44 124.64 207.99 125.39 208.17 125.95C208.36 126.51 208.30 127.14 208.41 127.73C208.51 128.32 208.64 128.91 208.81 129.49C208.98 130.06 209.31 130.90 209.40 131.19M198.95 77.37C199.34 77.80 200.28 79.60 201.25 79.97C202.22 80.35 203.62 79.86 204.78 79.63C205.94 79.39 207.25 79.14 208.20 78.56C209.15 77.99 209.73 77.05 210.46 76.18C211.19 75.31 211.80 74.21 212.58 73.34C213.37 72.47 214.33 71.80 215.17 70.97C216.01 70.14 216.62 68.78 217.62 68.35C218.61 67.93 219.97 68.51 221.14 68.41C222.31 68.30 223.61 68.13 224.66 67.72C225.70 67.31 226.39 66.32 227.40 65.96C228.42 65.59 229.62 65.58 230.73 65.55C231.85 65.53 233.00 66.00 234.11 65.80C235.22 65.60 236.84 64.62 237.39 64.38M162.88 62.99C162.30 62.85 160.44 62.65 159.40 62.12C158.36 61.60 157.45 60.70 156.63 59.84C155.81 58.99 155.11 58.00 154.48 56.99C153.84 55.98 153.39 54.81 152.84 53.79C152.28 52.77 151.43 51.36 151.15 50.87M151.19 100.95C151.73 101.21 153.53 101.74 154.43 102.47C155.32 103.20 155.66 104.64 156.54 105.33C157.43 106.03 158.61 106.50 159.73 106.63C160.84 106.77 162.08 106.43 163.23 106.14C164.38 105.86 165.51 105.38 166.61 104.92C167.72 104.46 168.77 103.62 169.87 103.38C170.96 103.13 172.05 103.24 173.16 103.46C174.27 103.69 175.38 104.39 176.53 104.71C177.67 105.04 178.86 105.23 180.04 105.44C181.21 105.65 182.49 106.17 183.58 105.96C184.68 105.76 185.88 105.06 186.60 104.21C187.32 103.36 187.70 101.42 187.92 100.87M194.11 119.11C194.59 118.76 196.39 117.93 197.02 116.99C197.64 116.06 197.84 114.68 197.86 113.52C197.88 112.35 197.58 111.08 197.12 110.00C196.66 108.92 195.78 108.02 195.10 107.04C194.42 106.05 193.59 105.14 193.04 104.09C192.49 103.03 191.82 101.84 191.81 100.71C191.80 99.58 192.49 98.38 192.96 97.32C193.44 96.26 194.20 95.39 194.67 94.32C195.14 93.25 195.61 91.47 195.80 90.90M204.60 112.95C204.38 113.51 203.69 115.17 203.27 116.30C202.85 117.42 201.97 118.62 202.10 119.69C202.22 120.77 203.32 121.78 204.03 122.73C204.74 123.68 205.67 124.50 206.38 125.38C207.08 126.27 208.30 127.13 208.26 128.05C208.22 128.98 206.50 130.45 206.14 130.93M246.52 107.48C246.06 107.84 244.68 108.97 243.73 109.67C242.77 110.36 241.56 110.78 240.77 111.62C239.98 112.47 239.28 114.22 238.98 114.74M217.99 100.67C217.43 100.89 215.53 101.33 214.67 101.97C213.81 102.62 213.37 103.56 212.84 104.54C212.31 105.52 212.27 107.10 211.50 107.86C210.73 108.62 209.36 108.92 208.22 109.11C207.07 109.29 205.81 108.89 204.62 108.97C203.43 109.04 201.99 108.95 201.07 109.54C200.14 110.12 199.64 111.47 199.06 112.48C198.48 113.49 197.83 115.08 197.59 115.60M194.75 126.18C194.88 125.59 195.48 123.85 195.53 122.67C195.57 121.49 195.39 120.20 195.02 119.11C194.66 118.02 194.00 117.08 193.35 116.12C192.69 115.16 191.62 114.37 191.09 113.33C190.56 112.28 190.66 110.89 190.16 109.86C189.66 108.82 188.90 107.94 188.08 107.11C187.27 106.29 186.21 105.63 185.26 104.92C184.31 104.20 183.23 103.66 182.39 102.84C181.54 102.03 180.70 101.06 180.19 100.02C179.68 98.98 179.62 97.74 179.31 96.59C179.00 95.45 178.91 94.14 178.33 93.15C177.75 92.15 176.82 91.21 175.83 90.62C174.84 90.04 173.53 90.00 172.39 89.65C171.26 89.30 170.15 88.80 168.99 88.50C167.84 88.21 166.04 88.00 165.45 87.90M234.47 113.61C234.77 113.58 235.67 113.46 236.26 113.46C236.86 113.47 237.47 113.51 238.06 113.64C238.64 113.77 239.18 114.20 239.76 114.23C240.33 114.26 240.92 113.87 241.51 113.83C242.10 113.78 243.01 113.94 243.31 113.96M176.12 94.33C175.90 94.88 175.25 96.57 174.77 97.66C174.29 98.75 173.59 99.74 173.24 100.86C172.89 101.99 172.75 103.23 172.67 104.42C172.60 105.61 172.61 106.84 172.81 108.00C173.00 109.17 173.42 110.31 173.85 111.41C174.28 112.51 174.79 113.60 175.39 114.62C175.98 115.64 176.62 116.69 177.43 117.53C178.25 118.38 179.22 119.23 180.29 119.69C181.36 120.15 182.71 120.43 183.84 120.30C184.96 120.17 186.01 119.46 187.05 118.91C188.09 118.35 189.38 117.86 190.08 116.98C190.78 116.09 190.83 114.70 191.26 113.58C191.70 112.47 192.47 110.85 192.71 110.30M148.09 58.94C147.97 58.66 147.58 57.85 147.36 57.29C147.14 56.73 146.75 56.16 146.76 55.59C146.77 55.03 147.15 54.45 147.44 53.93C147.72 53.40 148.29 52.69 148.46 52.45M183.93 113.20C184.01 112.60 184.67 110.74 184.44 109.64C184.20 108.54 183.22 107.54 182.50 106.60C181.79 105.66 181.08 104.55 180.14 104.02C179.19 103.49 177.71 103.02 176.83 103.43C175.96 103.83 175.64 105.53 174.89 106.45C174.13 107.37 173.16 108.10 172.30 108.95C171.45 109.79 170.69 110.75 169.77 111.50C168.84 112.25 167.79 113.39 166.75 113.44C165.72 113.49 164.08 112.07 163.55 111.80M155.01 79.00C155.57 79.21 157.26 79.78 158.36 80.25C159.46 80.71 160.83 80.99 161.60 81.80C162.38 82.61 162.28 84.25 163.02 85.10C163.76 85.96 164.96 86.57 166.06 86.92C167.17 87.26 168.57 86.79 169.64 87.18C170.71 87.57 171.64 88.45 172.49 89.27C173.35 90.08 174.14 91.04 174.76 92.04C175.38 93.04 175.70 94.20 176.23 95.27C176.75 96.33 177.15 97.54 177.92 98.42C178.69 99.29 179.85 99.85 180.84 100.51C181.82 101.18 182.76 102.13 183.86 102.43C184.95 102.73 186.80 102.34 187.39 102.32M166.28 48.09C165.73 48.28 163.97 48.62 163.00 49.22C162.03 49.81 161.40 50.98 160.45 51.69C159.51 52.40 158.41 52.98 157.32 53.46C156.23 53.94 154.64 53.80 153.91 54.56C153.19 55.32 153.05 56.87 152.99 58.04C152.94 59.21 153.18 60.49 153.61 61.58C154.03 62.68 155.20 63.52 155.53 64.62C155.87 65.73 155.94 67.11 155.64 68.22C155.33 69.32 154.15 70.15 153.70 71.24C153.24 72.33 152.81 73.65 152.90 74.74C152.99 75.84 154.13 76.72 154.23 77.82C154.33 78.91 153.70 80.16 153.50 81.31C153.30 82.47 153.11 84.17 153.03 84.75M193.81 53.78C193.98 53.20 194.48 51.47 194.83 50.33C195.18 49.18 195.51 48.05 195.89 46.91C196.27 45.78 196.90 44.09 197.10 43.52" stroke="#bdbdbd" stroke-width="0.65" fill="none"/><path d="M171 116.5C168 124 165 132 163 142M178 119C176 126 173 133 172 141" stroke="#b5b5b5" stroke-width="0.5" fill="none"/><path d="M179.30 39.70C184.13 39.45 190.55 39.65 196.00 40.40C201.45 41.15 207.33 42.77 212.00 44.20C216.67 45.63 220.25 47.08 224.00 49.00C227.75 50.92 231.58 53.37 234.50 55.70C237.42 58.03 239.47 60.28 241.50 63.00C243.53 65.72 245.20 69.00 246.70 72.00C248.20 75.00 249.52 77.93 250.50 81.00C251.48 84.07 252.28 87.40 252.60 90.40C252.92 93.40 252.73 96.32 252.40 99.00C252.07 101.68 251.45 104.37 250.60 106.50C249.75 108.63 248.73 110.38 247.30 111.80C245.87 113.22 244.13 114.23 242.00 115.00C239.87 115.77 237.00 116.30 234.50 116.40C232.00 116.50 229.08 115.67 227.00 115.60C224.92 115.53 223.07 115.02 222.00 116.00C220.93 116.98 221.18 119.62 220.60 121.50C220.02 123.38 219.60 125.62 218.50 127.30C217.40 128.98 215.83 130.58 214.00 131.60C212.17 132.62 209.67 133.17 207.50 133.40C205.33 133.63 203.08 133.38 201.00 133.00C198.92 132.62 196.83 131.87 195.00 131.10C193.17 130.33 191.57 129.18 190.00 128.40C188.43 127.62 186.83 125.97 185.60 126.40C184.37 126.83 183.65 129.15 182.60 131.00C181.55 132.85 180.48 135.62 179.30 137.50C178.12 139.38 177.22 141.13 175.50 142.30C173.78 143.47 171.58 144.23 169.00 144.50C166.42 144.77 163.17 144.58 160.00 143.90C156.83 143.22 153.17 142.05 150.00 140.40C146.83 138.75 143.37 136.40 141.00 134.00C138.63 131.60 136.97 128.67 135.80 126.00C134.63 123.33 134.42 120.50 134.00 118.00C133.58 115.50 134.17 112.83 133.30 111.00C132.43 109.17 130.08 108.83 128.80 107.00C127.52 105.17 126.32 102.43 125.60 100.00C124.88 97.57 124.55 95.07 124.50 92.40C124.45 89.73 124.73 86.73 125.30 84.00C125.87 81.27 126.75 78.58 127.90 76.00C129.05 73.42 130.55 71.00 132.20 68.50C133.85 66.00 135.78 63.33 137.80 61.00C139.82 58.67 142.05 56.50 144.30 54.50C146.55 52.50 148.85 50.60 151.30 49.00C153.75 47.40 156.38 46.08 159.00 44.90C161.62 43.72 163.62 42.77 167.00 41.90C170.38 41.03 174.47 39.95 179.30 39.70ZM133.30 111.00C134.75 111.10 138.88 111.30 142.00 111.60C145.12 111.90 148.67 112.40 152.00 112.80C155.33 113.20 158.83 113.53 162.00 114.00C165.17 114.47 168.33 114.77 171.00 115.60C173.67 116.43 176.00 117.85 178.00 119.00C180.00 120.15 181.73 121.27 183.00 122.50C184.27 123.73 185.17 125.75 185.60 126.40" stroke="#3d3d3d" stroke-width="0.95" fill="none"/><path d="M191.0 89.2h0M228.5 105.6h0M162.9 46.5h0M232.1 67.0h0M214.0 84.2h0M179.4 95.4h0M211.8 66.2h0M198.0 64.0h0M236.3 112.4h0M163.1 60.8h0M209.3 90.5h0M180.2 68.8h0M173.3 60.7h0M187.8 78.9h0M223.3 104.2h0M181.5 84.6h0M195.7 80.0h0M168.6 108.8h0M185.9 122.1h0M173.5 100.0h0" stroke="#C4EE93" stroke-width="2.30" stroke-linecap="round" fill="none"/><path d="M154.4 76.6h0M161.4 91.6h0M166.2 82.6h0M151.6 109.4h0M141.6 79.2h0M150.9 93.0h0M160.1 107.2h0M152.1 102.7h0M166.6 75.7h0M165.3 87.8h0M133.6 93.7h0M149.3 100.6h0M164.2 99.2h0M155.3 88.7h0M137.5 82.5h0M129.4 83.4h0M133.1 85.6h0M145.3 85.6h0M155.4 106.2h0M137.4 95.1h0M149.9 95.5h0M129.9 97.0h0M161.8 95.7h0M134.9 105.2h0M164.8 106.2h0M160.7 101.9h0M157.7 90.9h0M139.6 88.4h0M144.2 80.6h0M127.2 87.6h0M148.2 107.0h0M134.3 98.3h0M152.7 88.6h0M137.1 108.8h0M163.5 103.2h0M161.6 109.6h0M139.5 81.3h0M150.5 78.7h0M129.3 92.1h0M144.1 95.0h0M142.7 73.8h0M151.2 106.2h0M143.3 83.1h0M158.2 75.6h0M130.3 75.7h0M127.1 91.2h0M151.6 82.5h0M151.3 74.8h0M147.0 92.2h0M140.7 105.1h0" stroke="#44A6AD" stroke-width="2.30" stroke-linecap="round" fill="none"/><path d="M232.3 107.4h0M180.5 52.5h0M188.2 116.3h0M204.8 108.4h0M173.3 109.2h0M189.6 113.7h0M182.1 78.3h0M228.6 70.7h0M191.3 52.3h0M151.5 52.5h0M239.4 77.2h0M181.8 111.7h0M191.3 118.2h0M209.1 67.0h0M135.3 71.8h0M194.1 96.8h0M165.6 111.2h0M233.4 64.9h0M183.8 102.5h0M193.9 62.8h0M173.5 96.6h0M144.7 71.9h0M149.8 61.3h0M237.2 83.1h0M173.1 94.2h0M176.5 92.8h0M179.4 99.7h0M168.2 78.4h0M161.9 72.0h0M180.2 88.5h0M174.8 111.6h0M222.6 101.7h0M186.3 44.6h0M218.4 89.0h0M145.6 67.2h0M166.4 47.2h0M147.8 85.6h0M176.1 58.6h0M215.5 123.4h0M197.7 106.1h0M179.8 106.0h0M204.6 128.5h0M171.4 106.6h0M159.3 88.1h0M206.1 110.5h0M154.7 109.9h0M225.8 78.0h0M144.4 78.0h0M149.2 91.0h0M222.9 81.4h0M190.7 70.7h0M182.2 54.2h0" stroke="#F5DE80" stroke-width="2.30" stroke-linecap="round" fill="none"/><path d="M194.8 44.1h0M183.9 50.9h0M179.4 48.4h0M177.9 89.0h0M186.2 95.3h0M190.5 84.6h0M171.4 53.7h0M194.2 56.8h0M200.1 84.7h0M171.2 65.7h0M209.1 53.2h0M201.2 44.3h0M159.3 93.3h0M197.8 93.8h0M206.8 54.1h0M190.2 55.2h0M179.0 59.1h0M137.6 85.4h0M158.2 58.8h0M182.5 91.1h0M191.2 64.0h0M201.9 57.7h0M194.8 53.1h0M190.2 75.1h0M182.0 62.0h0M188.8 92.9h0M189.2 48.7h0M179.8 62.9h0M163.9 64.3h0M199.0 55.0h0M176.0 52.9h0M204.4 49.1h0M174.8 56.1h0M174.4 63.4h0M177.0 47.8h0M172.4 45.8h0M170.9 47.9h0M199.1 59.4h0M205.1 46.7h0M166.0 51.7h0M165.8 61.2h0M207.2 58.2h0M202.8 64.3h0M181.6 58.6h0" stroke="#8BD89D" stroke-width="2.30" stroke-linecap="round" fill="none"/><path d="M246.7 104.7h0M175.7 74.0h0M227.3 56.1h0M225.4 93.9h0M227.3 75.0h0M234.6 66.9h0M153.2 66.9h0M154.9 51.3h0M213.4 93.7h0M154.8 54.4h0M221.3 75.2h0M194.3 84.9h0M220.6 98.3h0M205.1 86.5h0M242.4 76.2h0M215.3 81.8h0M246.0 108.3h0M210.7 49.7h0M236.3 86.3h0M212.8 56.7h0M248.2 98.8h0M206.4 93.1h0M175.8 81.2h0M235.5 94.7h0M245.8 82.0h0M183.8 83.7h0M149.4 70.1h0M205.1 82.6h0M209.2 84.9h0M180.4 76.1h0M132.9 71.6h0M235.5 100.1h0M243.1 92.0h0M155.8 66.8h0M148.6 58.3h0M242.0 82.8h0M223.3 67.5h0M209.3 74.5h0" stroke="#E9583B" stroke-width="2.30" stroke-linecap="round" fill="none"/><path d="M161.1 54.0h0M194.9 122.8h0M139.4 66.4h0M219.0 54.4h0M223.7 55.3h0M215.4 58.5h0M209.2 93.3h0M144.6 107.5h0M232.8 77.7h0M198.9 73.9h0M196.8 50.1h0M188.5 69.3h0M209.8 58.0h0M192.9 58.7h0M199.8 91.9h0M225.9 69.6h0M153.9 61.7h0M149.1 67.3h0M196.7 86.7h0M232.2 95.6h0M170.0 98.3h0M215.5 87.4h0M235.9 71.8h0M218.9 51.7h0M183.5 64.6h0M201.7 98.4h0M233.9 91.5h0M230.5 87.3h0M210.7 71.2h0M246.9 93.3h0M183.7 76.2h0M240.1 67.4h0M142.2 97.7h0M232.4 56.6h0M169.0 50.6h0M169.5 72.6h0M199.7 108.1h0M248.8 86.0h0M238.0 90.6h0M239.3 88.3h0M225.3 109.3h0M157.9 68.5h0M169.6 88.8h0M214.5 120.0h0M203.4 78.7h0M206.8 98.1h0M235.0 82.0h0M184.5 56.4h0M207.7 102.4h0M213.7 70.3h0M212.9 88.0h0M143.7 59.7h0M227.9 88.3h0M140.7 95.0h0M223.4 58.1h0M184.0 89.0h0M158.0 70.9h0M217.6 70.5h0M202.5 101.3h0M229.6 93.5h0M238.9 107.8h0M220.5 68.4h0M215.5 50.3h0M215.8 95.4h0M230.8 81.4h0" stroke="#F4A04E" stroke-width="2.30" stroke-linecap="round" fill="none"/><path d="M203.6 124.3h0M173.7 105.2h0M215.5 101.2h0M179.9 116.8h0M206.8 114.5h0M175.7 108.3h0M210.7 117.6h0M205.4 102.1h0M195.4 103.1h0M190.3 102.1h0M170.7 112.1h0M211.4 113.8h0M168.0 105.8h0M203.0 104.9h0M202.2 114.3h0M183.1 108.2h0" stroke="#EEF4A4" stroke-width="2.30" stroke-linecap="round" fill="none"/></g><g id="tp"><path d="M328.68 108.15C328.14 108.18 326.13 108.87 325.43 108.34C324.74 107.81 324.35 106.04 324.50 104.96C324.65 103.88 325.45 102.61 326.31 101.86C327.16 101.10 328.48 100.82 329.60 100.43C330.73 100.04 331.94 99.50 333.08 99.54C334.22 99.59 335.89 100.52 336.46 100.71M285.51 125.12C286.10 125.06 287.91 124.92 289.09 124.73C290.26 124.55 291.38 124.16 292.56 124.02C293.74 123.88 294.97 123.87 296.16 123.91C297.35 123.94 298.50 124.23 299.69 124.25C300.87 124.27 302.17 123.78 303.27 124.03C304.36 124.27 305.58 124.84 306.24 125.69C306.90 126.54 306.97 127.98 307.24 129.13C307.51 130.29 307.77 132.02 307.87 132.60M317.56 85.29C317.30 85.77 316.61 87.20 315.97 88.14C315.33 89.08 314.63 90.23 313.72 90.94C312.80 91.65 311.41 91.69 310.50 92.40C309.59 93.10 309.06 94.30 308.26 95.17C307.46 96.05 306.11 97.26 305.68 97.67M284.41 53.36C284.11 52.85 283.23 51.31 282.59 50.32C281.95 49.33 281.34 48.28 280.56 47.43C279.77 46.57 278.33 45.56 277.88 45.18M299.84 53.41C299.72 54.00 299.42 55.83 299.16 56.94C298.91 58.06 298.34 59.04 298.32 60.10C298.31 61.17 298.78 62.21 299.09 63.32C299.41 64.43 299.60 65.74 300.20 66.74C300.81 67.74 302.31 68.88 302.73 69.30M336.11 50.41C336.10 51.01 336.09 52.81 336.05 54.00C336.01 55.20 336.19 56.46 335.85 57.57C335.52 58.68 334.32 59.59 334.04 60.67C333.77 61.76 334.34 63.00 334.22 64.10C334.10 65.19 333.93 66.35 333.33 67.25C332.73 68.14 331.58 68.79 330.62 69.47C329.65 70.14 328.63 70.89 327.52 71.28C326.41 71.68 325.13 71.58 323.97 71.82C322.81 72.07 321.62 72.31 320.54 72.76C319.45 73.21 318.55 74.09 317.46 74.54C316.37 74.98 315.10 75.03 313.98 75.42C312.85 75.81 311.25 76.63 310.70 76.88M309.44 38.48C310.00 38.67 311.68 39.26 312.79 39.67C313.90 40.09 315.20 40.26 316.12 40.96C317.03 41.65 317.37 43.09 318.26 43.85C319.15 44.60 320.37 45.41 321.46 45.48C322.55 45.54 323.91 44.92 324.82 44.23C325.73 43.54 326.27 42.31 326.93 41.32C327.60 40.33 328.08 39.21 328.81 38.27C329.53 37.33 330.88 36.11 331.30 35.68M299.47 100.54C299.95 100.85 301.34 102.01 302.39 102.43C303.44 102.84 304.62 102.85 305.77 103.02C306.93 103.18 308.18 103.50 309.35 103.42C310.52 103.34 311.70 102.98 312.81 102.56C313.91 102.13 315.07 101.62 316.00 100.89C316.93 100.16 317.52 99.01 318.39 98.20C319.27 97.40 320.28 96.74 321.27 96.06C322.25 95.38 323.28 94.17 324.31 94.13C325.33 94.09 326.40 95.23 327.42 95.81C328.44 96.39 329.42 96.95 330.40 97.60C331.39 98.24 332.27 99.51 333.32 99.67C334.38 99.83 335.58 98.85 336.74 98.54C337.89 98.23 339.67 97.93 340.26 97.81M284.98 106.39C285.47 106.04 286.83 104.76 287.90 104.28C288.97 103.80 290.34 104.00 291.41 103.53C292.48 103.06 293.45 102.25 294.32 101.44C295.20 100.64 296.45 99.70 296.65 98.70C296.85 97.70 296.26 96.19 295.52 95.44C294.79 94.69 292.78 94.41 292.23 94.21M316.38 72.00C316.30 71.41 316.26 69.55 315.88 68.44C315.50 67.34 314.62 66.43 314.12 65.35C313.62 64.27 313.63 62.83 312.90 61.98C312.18 61.14 310.89 60.53 309.77 60.29C308.65 60.04 307.28 60.18 306.18 60.52C305.07 60.85 304.19 61.74 303.14 62.28C302.08 62.81 300.48 62.91 299.85 63.75C299.22 64.59 299.52 66.14 299.36 67.32C299.21 68.49 298.96 69.63 298.93 70.80C298.90 71.98 299.01 73.19 299.17 74.37C299.33 75.55 299.58 76.73 299.88 77.88C300.18 79.04 300.77 80.74 300.95 81.31M268.48 111.17C268.37 110.58 268.10 108.80 267.82 107.63C267.55 106.46 267.11 105.34 266.82 104.17C266.53 103.01 266.12 101.78 266.09 100.65C266.06 99.52 266.00 98.15 266.63 97.40C267.27 96.64 268.78 96.21 269.90 96.11C271.03 96.02 272.26 96.94 273.38 96.86C274.50 96.78 275.77 96.34 276.63 95.63C277.49 94.93 278.24 93.13 278.56 92.63M326.67 103.51C326.20 103.89 324.96 105.35 323.90 105.81C322.85 106.27 321.49 106.00 320.33 106.28C319.18 106.56 318.10 107.10 316.98 107.49C315.86 107.88 314.74 108.47 313.59 108.61C312.44 108.75 311.27 108.43 310.09 108.35C308.92 108.27 307.71 108.28 306.53 108.14C305.36 108.00 304.04 107.96 303.04 107.50C302.04 107.04 301.22 106.27 300.54 105.38C299.86 104.50 299.46 103.25 298.97 102.19C298.47 101.12 297.79 99.52 297.55 98.99M350.56 118.57C350.78 118.36 351.42 117.73 351.83 117.29C352.24 116.85 352.64 116.41 353.01 115.93C353.38 115.46 353.74 114.97 354.03 114.45C354.32 113.93 354.63 113.08 354.76 112.80M299.51 56.48C300.10 56.55 302.00 57.24 303.05 56.93C304.09 56.62 304.75 55.06 305.80 54.62C306.84 54.19 308.27 54.05 309.30 54.33C310.34 54.60 311.19 55.51 311.99 56.25C312.78 56.99 313.14 58.20 314.06 58.77C314.98 59.34 316.38 59.29 317.50 59.68C318.61 60.07 320.10 60.30 320.75 61.12C321.39 61.94 321.55 63.51 321.38 64.63C321.20 65.74 319.92 66.67 319.67 67.80C319.43 68.93 319.86 70.79 319.89 71.39M348.10 82.94C348.19 82.35 348.34 80.53 348.65 79.38C348.97 78.23 349.59 77.17 350.01 76.05C350.44 74.93 351.03 73.82 351.20 72.66C351.37 71.50 351.35 70.21 351.02 69.09C350.69 67.98 349.55 67.08 349.22 65.97C348.90 64.87 349.10 63.06 349.07 62.48M309.02 74.60C309.57 74.41 311.20 73.63 312.34 73.47C313.49 73.30 314.78 73.36 315.91 73.62C317.03 73.88 318.10 74.44 319.11 75.04C320.12 75.63 321.10 76.38 321.96 77.18C322.81 77.99 323.61 78.90 324.24 79.86C324.87 80.83 325.22 81.92 325.74 82.96C326.26 84.00 327.07 85.57 327.34 86.09M316.61 30.97C316.85 31.51 317.29 33.40 318.07 34.19C318.86 34.99 320.20 35.29 321.31 35.73C322.41 36.18 323.58 36.66 324.72 36.86C325.85 37.07 327.13 37.35 328.12 36.96C329.12 36.56 330.26 34.89 330.69 34.48M303.08 125.88C302.89 125.34 302.52 123.60 301.94 122.60C301.35 121.60 300.47 120.65 299.55 119.90C298.64 119.15 297.31 118.89 296.43 118.11C295.54 117.34 295.19 115.85 294.24 115.26C293.29 114.66 291.84 114.95 290.74 114.54C289.64 114.13 288.14 113.09 287.62 112.80M311.03 43.96C310.57 44.35 308.98 45.35 308.29 46.29C307.59 47.23 307.18 48.45 306.88 49.60C306.58 50.75 306.62 52.01 306.48 53.17C306.34 54.33 306.32 55.50 306.03 56.56C305.74 57.62 304.71 58.50 304.73 59.53C304.76 60.57 305.46 61.85 306.17 62.75C306.88 63.65 307.95 64.59 308.98 64.91C310.00 65.23 311.30 65.06 312.33 64.68C313.37 64.30 314.72 62.95 315.19 62.60M335.50 82.56C335.20 83.01 334.04 84.23 333.70 85.28C333.36 86.33 333.51 87.67 333.45 88.86C333.40 90.05 333.67 91.30 333.36 92.42C333.06 93.54 332.35 94.65 331.62 95.56C330.90 96.47 329.45 97.48 329.02 97.86M312.18 126.10C311.59 126.05 309.81 125.75 308.64 125.77C307.47 125.78 306.30 126.32 305.16 126.19C304.02 126.05 302.84 125.51 301.80 124.95C300.76 124.40 299.93 123.47 298.91 122.86C297.90 122.25 296.83 121.62 295.69 121.32C294.56 121.02 293.28 121.11 292.10 121.06C290.92 121.00 289.74 120.77 288.61 120.99C287.48 121.21 285.86 122.15 285.32 122.38M279.27 55.66C279.24 55.08 279.14 53.36 279.07 52.18C279.01 51.01 279.19 49.75 278.91 48.62C278.62 47.49 277.64 45.94 277.38 45.40M291.92 138.38C292.16 138.93 292.50 141.13 293.33 141.69C294.16 142.25 295.80 141.43 296.93 141.72C298.05 142.00 298.97 142.92 300.06 143.40C301.15 143.89 302.52 143.95 303.44 144.63C304.36 145.32 304.93 146.51 305.57 147.49C306.22 148.48 306.53 149.70 307.31 150.54C308.10 151.38 309.77 152.20 310.26 152.54M292.24 107.58C291.82 107.15 290.75 105.49 289.73 105.02C288.72 104.54 287.34 104.77 286.15 104.72C284.97 104.67 283.77 104.64 282.60 104.71C281.43 104.79 280.15 104.71 279.11 105.18C278.08 105.64 277.43 107.03 276.38 107.50C275.34 107.97 274.04 107.96 272.86 108.03C271.68 108.09 270.41 107.63 269.28 107.88C268.16 108.13 266.95 108.75 266.09 109.53C265.23 110.31 264.57 111.47 264.14 112.55C263.72 113.64 263.79 114.88 263.55 116.05C263.31 117.21 262.83 118.96 262.69 119.54M327.10 76.95C326.60 77.29 325.16 78.38 324.14 79.00C323.12 79.63 321.99 80.09 320.97 80.71C319.95 81.32 319.08 82.20 318.03 82.70C316.98 83.20 315.82 83.45 314.67 83.69C313.52 83.93 312.23 83.78 311.13 84.17C310.02 84.55 309.15 85.63 308.05 86.02C306.95 86.40 305.71 86.30 304.53 86.47C303.35 86.64 302.16 86.95 300.97 87.03C299.78 87.10 298.51 86.66 297.38 86.91C296.26 87.16 294.73 88.26 294.20 88.53M308.46 41.75C308.44 42.28 308.28 43.80 308.30 44.93C308.33 46.06 308.36 47.36 308.64 48.52C308.92 49.67 309.27 50.95 309.98 51.85C310.68 52.75 311.88 53.25 312.88 53.91C313.87 54.57 315.04 55.03 315.94 55.80C316.83 56.58 317.65 57.55 318.23 58.57C318.81 59.60 318.81 60.98 319.41 61.94C320.01 62.91 321.44 63.94 321.84 64.34M325.41 48.98C325.95 48.72 327.57 47.95 328.62 47.38C329.67 46.81 330.73 46.26 331.70 45.58C332.67 44.90 333.45 43.99 334.43 43.32C335.40 42.65 337.03 41.85 337.55 41.55M292.29 141.99C292.81 142.29 294.37 143.16 295.41 143.75C296.44 144.34 297.43 145.32 298.53 145.54C299.62 145.75 300.82 145.25 301.98 145.04C303.13 144.83 304.32 144.56 305.46 144.30C306.61 144.04 307.71 143.69 308.87 143.47C310.03 143.26 311.25 143.02 312.44 143.02C313.63 143.01 315.41 143.39 316.01 143.46M286.97 85.44C287.32 84.96 288.20 83.39 289.03 82.56C289.87 81.73 291.07 81.25 291.97 80.48C292.88 79.72 293.53 78.68 294.48 78.00C295.43 77.31 296.59 76.85 297.68 76.36C298.77 75.86 299.88 75.43 301.01 75.03C302.14 74.63 303.28 74.10 304.45 73.97C305.62 73.84 306.90 74.47 308.03 74.25C309.16 74.03 310.16 73.18 311.21 72.64C312.26 72.10 313.25 71.45 314.33 71.02C315.41 70.58 316.62 69.90 317.70 70.02C318.78 70.14 320.26 70.86 320.80 71.75C321.33 72.64 320.89 74.75 320.91 75.35M279.08 98.23C278.80 98.76 278.02 100.40 277.39 101.41C276.76 102.43 275.94 103.31 275.30 104.32C274.67 105.34 274.12 106.42 273.57 107.48C273.02 108.53 271.95 109.61 272.00 110.65C272.04 111.69 273.01 112.96 273.84 113.74C274.67 114.52 275.88 114.87 276.97 115.31C278.07 115.75 279.39 115.81 280.41 116.39C281.42 116.96 282.20 117.94 283.08 118.74C283.96 119.55 284.90 120.31 285.68 121.21C286.47 122.11 286.89 123.53 287.80 124.12C288.72 124.71 290.03 124.54 291.17 124.77C292.32 124.99 294.11 125.35 294.70 125.46M263.75 103.33C263.85 102.74 264.50 100.90 264.33 99.78C264.16 98.66 263.06 97.71 262.74 96.59C262.42 95.46 262.64 94.16 262.41 93.03C262.18 91.90 261.54 90.33 261.37 89.79M271.05 80.26C270.75 80.20 269.87 80.03 269.29 79.89C268.70 79.74 268.11 79.61 267.55 79.41C266.98 79.22 266.46 78.91 265.90 78.69C265.34 78.48 264.78 78.22 264.19 78.13C263.61 78.03 262.69 78.14 262.39 78.14M327.38 118.29C327.06 118.80 326.27 120.50 325.46 121.33C324.66 122.16 323.47 122.54 322.56 123.26C321.65 123.97 321.00 125.05 320.01 125.62C319.01 126.19 317.75 126.63 316.61 126.67C315.46 126.72 314.30 125.91 313.14 125.88C311.97 125.85 310.78 126.28 309.61 126.52C308.44 126.76 307.22 126.90 306.12 127.33C305.02 127.76 304.00 128.43 303.02 129.09C302.03 129.76 301.24 130.79 300.20 131.32C299.17 131.86 297.96 132.01 296.81 132.32C295.67 132.63 294.48 133.15 293.32 133.18C292.16 133.20 290.43 132.59 289.85 132.47M287.24 128.76C286.97 128.28 285.81 126.98 285.63 125.92C285.46 124.87 286.23 123.60 286.20 122.44C286.17 121.28 285.73 120.13 285.48 118.97C285.23 117.81 284.95 116.65 284.70 115.48C284.45 114.32 284.52 112.99 283.99 111.97C283.46 110.95 282.20 110.32 281.49 109.38C280.79 108.45 280.19 107.44 279.78 106.35C279.36 105.27 279.15 103.44 279.02 102.86M344.17 101.98C343.67 101.81 342.18 101.40 341.18 100.94C340.17 100.49 339.07 99.96 338.16 99.24C337.24 98.52 336.53 97.47 335.69 96.62C334.85 95.77 333.97 94.98 333.13 94.12C332.30 93.27 331.38 92.46 330.69 91.51C330.00 90.55 329.67 89.37 329.01 88.39C328.35 87.42 327.62 86.34 326.71 85.65C325.81 84.97 324.59 84.33 323.58 84.29C322.56 84.25 321.08 84.68 320.62 85.41C320.16 86.15 320.55 87.64 320.83 88.72C321.11 89.81 322.01 90.82 322.31 91.92C322.60 93.02 322.05 94.42 322.59 95.33C323.13 96.23 324.68 96.53 325.54 97.34C326.40 98.15 327.38 99.71 327.75 100.18M295.12 134.39C294.63 134.04 293.20 132.95 292.19 132.30C291.18 131.66 290.18 130.83 289.07 130.52C287.95 130.20 286.66 130.56 285.49 130.41C284.32 130.25 283.13 129.68 282.02 129.59C280.92 129.50 279.97 129.86 278.86 129.86C277.75 129.87 276.54 129.60 275.35 129.62C274.17 129.64 272.78 130.34 271.77 129.98C270.77 129.63 270.10 128.39 269.33 127.51C268.57 126.62 267.84 125.66 267.17 124.67C266.50 123.69 266.14 122.39 265.30 121.61C264.45 120.82 262.64 120.23 262.11 119.96M303.63 92.14C303.21 91.73 301.65 90.67 301.09 89.67C300.53 88.68 300.57 87.35 300.27 86.19C299.97 85.03 299.95 83.62 299.28 82.73C298.60 81.84 297.30 81.34 296.22 80.83C295.14 80.32 293.98 79.93 292.82 79.67C291.66 79.40 290.44 79.40 289.25 79.27C288.06 79.13 286.26 78.94 285.67 78.88M285.94 44.52C286.40 44.14 287.70 42.82 288.73 42.25C289.77 41.69 290.99 41.49 292.13 41.15C293.28 40.81 294.46 40.55 295.60 40.23C296.74 39.91 297.87 39.23 299.00 39.23C300.12 39.24 301.45 39.59 302.35 40.24C303.25 40.89 303.69 42.20 304.42 43.15C305.16 44.09 306.37 45.43 306.76 45.88M322.20 130.14C322.73 129.98 324.39 129.71 325.37 129.18C326.35 128.66 327.34 127.87 328.08 126.98C328.81 126.08 329.27 124.83 329.78 123.81C330.29 122.79 330.59 121.86 331.13 120.86C331.68 119.86 332.71 118.31 333.03 117.80M272.41 62.36C272.12 62.29 271.25 62.06 270.66 61.93C270.08 61.79 269.49 61.62 268.90 61.58C268.30 61.54 267.59 61.42 267.10 61.66C266.61 61.91 266.15 62.82 265.96 63.06M311.76 92.29C311.86 91.70 312.05 89.90 312.37 88.75C312.69 87.61 312.96 86.32 313.69 85.44C314.41 84.57 315.76 84.21 316.72 83.51C317.68 82.81 318.40 81.60 319.45 81.25C320.50 80.89 321.85 81.30 323.04 81.36C324.24 81.42 325.44 81.58 326.63 81.62C327.83 81.66 329.13 81.84 330.22 81.60C331.32 81.37 332.28 80.76 333.20 80.20C334.11 79.63 334.70 78.50 335.71 78.21C336.73 77.92 338.17 78.16 339.30 78.47C340.44 78.77 341.48 79.50 342.55 80.03C343.62 80.56 344.67 81.57 345.73 81.65C346.79 81.74 347.82 80.92 348.91 80.54C350.01 80.16 351.72 79.56 352.28 79.37M299.24 102.87C298.64 102.81 296.84 102.70 295.66 102.49C294.49 102.29 292.75 102.38 292.18 101.64C291.61 100.91 292.17 99.24 292.25 98.07C292.34 96.91 292.61 95.81 292.69 94.65C292.78 93.49 293.01 92.23 292.75 91.12C292.49 90.01 291.40 88.51 291.13 87.99M329.17 104.07C329.74 103.87 331.44 103.32 332.55 102.89C333.66 102.46 334.84 102.10 335.84 101.49C336.85 100.89 337.92 100.20 338.56 99.26C339.20 98.32 339.23 96.95 339.68 95.84C340.14 94.74 340.90 93.74 341.30 92.63C341.70 91.52 341.61 90.23 342.08 89.16C342.56 88.10 343.83 86.74 344.17 86.25M336.42 123.89C336.25 124.46 335.72 126.18 335.40 127.34C335.08 128.49 334.95 129.72 334.49 130.82C334.03 131.91 333.19 132.83 332.64 133.89C332.08 134.96 331.37 136.06 331.18 137.18C330.99 138.31 331.81 139.60 331.50 140.64C331.18 141.67 330.21 142.71 329.29 143.41C328.37 144.11 327.08 144.86 326.00 144.86C324.92 144.86 323.73 144.13 322.83 143.42C321.93 142.72 320.96 141.08 320.59 140.61M290.90 112.46C291.28 112.89 292.20 114.67 293.17 115.07C294.15 115.46 295.58 115.01 296.77 114.86C297.96 114.70 299.17 114.52 300.30 114.13C301.42 113.75 302.40 112.62 303.50 112.55C304.60 112.48 305.75 113.42 306.89 113.72C308.02 114.02 309.33 113.83 310.32 114.37C311.30 114.91 312.13 115.97 312.79 116.95C313.44 117.92 313.86 119.09 314.25 120.21C314.63 121.34 314.74 122.58 315.10 123.71C315.47 124.84 316.13 125.86 316.46 127.00C316.78 128.14 316.52 129.54 317.06 130.53C317.59 131.52 318.70 132.31 319.67 132.94C320.64 133.58 322.25 133.52 322.89 134.33C323.53 135.14 323.42 137.22 323.52 137.80M289.74 64.32C289.14 64.38 287.14 64.19 286.16 64.71C285.18 65.23 284.66 66.56 283.86 67.44C283.05 68.32 282.18 69.10 281.35 69.96C280.53 70.82 279.46 71.59 278.93 72.61C278.41 73.64 278.33 75.54 278.21 76.12M352.11 97.61C351.79 98.11 350.63 99.55 350.14 100.62C349.65 101.68 348.93 103.02 349.18 104.02C349.44 105.02 350.76 105.84 351.66 106.63C352.55 107.42 354.07 108.41 354.55 108.76M332.47 51.66C333.06 51.73 334.89 51.77 336.04 52.08C337.19 52.39 338.22 53.43 339.34 53.50C340.47 53.57 341.62 52.64 342.79 52.50C343.96 52.36 345.78 52.65 346.37 52.68M324.99 118.38C325.37 117.93 326.78 116.70 327.29 115.68C327.80 114.67 327.75 113.41 328.06 112.28C328.37 111.14 328.90 110.04 329.17 108.89C329.43 107.74 329.39 106.54 329.66 105.38C329.93 104.23 330.73 103.12 330.80 101.97C330.87 100.82 330.46 99.58 330.09 98.49C329.71 97.40 329.14 96.44 328.55 95.43C327.96 94.42 326.89 92.94 326.56 92.44M286.23 103.00C286.72 102.65 288.15 101.55 289.15 100.93C290.14 100.30 291.64 100.04 292.22 99.25C292.81 98.45 293.09 96.99 292.66 96.17C292.23 95.34 290.61 94.97 289.63 94.30C288.65 93.63 287.85 92.61 286.79 92.13C285.73 91.65 284.10 92.07 283.27 91.42C282.43 90.78 282.02 88.77 281.77 88.24M285.64 130.38C285.71 129.78 285.77 127.94 286.06 126.81C286.35 125.68 287.04 124.73 287.38 123.61C287.72 122.49 287.79 121.24 288.09 120.08C288.38 118.93 288.93 117.83 289.15 116.68C289.37 115.54 289.39 114.38 289.40 113.20C289.41 112.02 289.19 110.80 289.22 109.61C289.25 108.41 289.75 107.13 289.59 106.03C289.43 104.93 288.77 104.03 288.25 103.00C287.72 101.98 287.18 100.82 286.45 99.89C285.71 98.95 284.85 98.00 283.84 97.41C282.83 96.81 281.53 96.74 280.41 96.32C279.28 95.91 277.65 95.17 277.10 94.93M272.07 96.20C272.46 95.75 273.72 94.44 274.42 93.48C275.12 92.51 275.49 91.27 276.28 90.40C277.07 89.53 278.10 88.64 279.16 88.24C280.22 87.84 281.54 88.31 282.66 88.01C283.78 87.71 284.75 86.72 285.89 86.46C287.02 86.21 288.33 86.67 289.48 86.46C290.63 86.26 291.93 85.90 292.78 85.24C293.63 84.57 294.03 83.49 294.58 82.48C295.13 81.48 296.01 80.32 296.07 79.21C296.12 78.10 295.41 76.87 294.89 75.84C294.38 74.81 293.40 74.09 292.98 73.04C292.55 71.99 292.10 70.60 292.33 69.53C292.56 68.46 293.46 67.20 294.37 66.62C295.27 66.04 297.19 66.15 297.75 66.05M339.72 100.85C339.38 100.36 338.24 98.93 337.68 97.88C337.12 96.84 336.84 95.65 336.35 94.56C335.86 93.48 335.40 92.35 334.72 91.38C334.04 90.41 333.12 89.58 332.27 88.74C331.42 87.91 330.47 87.18 329.61 86.36C328.74 85.53 327.87 84.69 327.06 83.81C326.24 82.94 325.50 81.99 324.71 81.09C323.93 80.19 322.76 78.87 322.36 78.43M347.16 117.47C347.46 117.45 348.41 117.18 348.95 117.33C349.50 117.48 349.98 117.96 350.42 118.36C350.86 118.76 351.28 119.23 351.59 119.73C351.91 120.23 352.21 121.10 352.33 121.37M297.89 116.29C297.82 115.69 297.58 113.91 297.45 112.72C297.32 111.53 297.18 110.35 297.12 109.16C297.07 107.96 296.83 106.69 297.11 105.57C297.40 104.44 298.36 103.51 298.83 102.41C299.30 101.31 299.47 100.08 299.93 98.98C300.40 97.88 301.14 96.90 301.60 95.80C302.06 94.71 302.36 93.55 302.70 92.40C303.03 91.26 303.46 89.52 303.62 88.94M314.87 118.12C314.90 118.71 315.53 120.91 315.03 121.67C314.52 122.42 312.95 122.42 311.84 122.67C310.72 122.91 309.49 122.92 308.33 123.13C307.16 123.35 306.00 123.78 304.82 123.96C303.65 124.13 302.40 123.89 301.27 124.20C300.15 124.51 299.14 125.46 298.08 125.83C297.01 126.20 295.41 126.32 294.87 126.42M349.06 82.99C349.02 83.56 349.07 85.30 348.83 86.43C348.60 87.56 348.30 88.82 347.65 89.77C346.99 90.71 345.88 91.41 344.90 92.10C343.92 92.78 342.85 93.36 341.77 93.85C340.68 94.34 339.41 94.44 338.39 95.02C337.36 95.59 336.55 96.55 335.61 97.30C334.68 98.05 333.68 98.70 332.79 99.49C331.91 100.29 330.97 101.11 330.31 102.09C329.64 103.07 329.56 104.51 328.81 105.36C328.06 106.22 326.35 106.34 325.81 107.22C325.28 108.10 325.63 109.51 325.60 110.66C325.58 111.80 325.82 112.96 325.67 114.10C325.51 115.24 324.83 116.93 324.66 117.50M287.83 138.96C287.98 138.38 288.26 136.57 288.70 135.47C289.14 134.37 289.81 133.33 290.49 132.35C291.17 131.38 291.96 130.45 292.79 129.61C293.62 128.77 294.57 128.06 295.47 127.29C296.37 126.53 297.15 125.49 298.20 125.00C299.24 124.51 301.15 124.47 301.74 124.36M308.61 36.30C308.31 36.78 307.31 38.11 306.85 39.15C306.39 40.19 306.16 41.40 305.84 42.55C305.52 43.70 304.76 44.95 304.92 46.03C305.07 47.12 306.07 48.11 306.77 49.06C307.48 50.01 308.33 50.90 309.16 51.73C310.00 52.56 310.79 53.47 311.80 54.04C312.81 54.61 314.07 55.08 315.22 55.13C316.38 55.18 317.80 54.91 318.72 54.35C319.65 53.78 319.92 52.46 320.78 51.74C321.65 51.02 322.82 50.52 323.90 50.04C324.98 49.57 326.14 49.24 327.26 48.91C328.38 48.57 330.05 48.20 330.61 48.06M301.98 38.44C301.42 38.26 299.74 37.71 298.61 37.35C297.48 36.99 296.26 36.72 295.18 36.28C294.09 35.83 292.60 34.95 292.09 34.68M290.09 110.43C290.67 110.35 292.41 110.06 293.60 109.93C294.78 109.80 296.02 109.80 297.18 109.65C298.35 109.51 299.48 109.40 300.60 109.07C301.73 108.75 303.14 108.45 303.91 107.70C304.67 106.94 304.66 105.44 305.19 104.55C305.72 103.66 306.22 103.02 307.06 102.37C307.90 101.72 309.13 100.95 310.23 100.66C311.34 100.38 312.58 100.40 313.70 100.65C314.82 100.91 315.88 101.65 316.94 102.20C318.00 102.75 319.55 103.66 320.07 103.95M279.00 57.53C278.53 57.91 276.99 58.91 276.21 59.80C275.43 60.69 275.07 61.95 274.32 62.87C273.57 63.78 272.66 64.56 271.73 65.28C270.80 66.01 269.84 66.78 268.76 67.20C267.68 67.62 265.83 67.69 265.24 67.79M333.28 121.37C333.33 120.77 333.27 118.94 333.54 117.79C333.81 116.63 334.30 115.47 334.91 114.46C335.51 113.44 336.38 112.58 337.19 111.70C337.99 110.81 338.96 110.07 339.72 109.15C340.47 108.23 341.43 107.26 341.70 106.16C341.97 105.07 341.81 103.62 341.34 102.58C340.88 101.54 339.77 100.75 338.92 99.92C338.07 99.09 337.19 98.33 336.25 97.61C335.31 96.90 334.32 96.15 333.27 95.61C332.21 95.08 331.07 94.74 329.93 94.41C328.79 94.08 327.31 94.25 326.42 93.65C325.53 93.06 325.35 91.69 324.58 90.83C323.81 89.98 322.28 88.92 321.82 88.53M280.73 139.37C280.85 139.96 280.83 141.94 281.43 142.88C282.02 143.82 283.32 144.45 284.31 145.03C285.30 145.61 286.30 145.92 287.37 146.35C288.45 146.78 289.58 147.43 290.73 147.61C291.89 147.79 293.17 147.70 294.32 147.43C295.47 147.16 296.47 146.23 297.62 146.01C298.77 145.79 300.01 146.16 301.21 146.12C302.40 146.08 303.80 146.25 304.78 145.75C305.75 145.26 306.30 144.05 307.06 143.16C307.83 142.27 308.76 141.44 309.38 140.43C309.99 139.43 310.84 138.18 310.77 137.11C310.70 136.04 309.66 134.99 308.97 134.01C308.29 133.04 307.33 132.23 306.66 131.28C305.99 130.32 305.23 128.80 304.95 128.30M331.87 97.06C332.09 97.62 332.38 99.70 333.18 100.40C333.98 101.10 335.58 101.41 336.68 101.25C337.77 101.09 338.79 100.13 339.74 99.44C340.70 98.75 341.85 98.06 342.39 97.09C342.92 96.13 343.12 94.78 342.96 93.67C342.79 92.56 341.90 91.49 341.40 90.44C340.91 89.39 340.48 88.44 339.98 87.39C339.48 86.35 339.12 85.06 338.39 84.16C337.67 83.26 336.62 82.63 335.64 81.98C334.66 81.32 333.63 80.61 332.51 80.23C331.40 79.85 330.12 79.86 328.95 79.72C327.78 79.59 326.08 79.48 325.51 79.43M272.39 102.80C272.63 102.25 273.28 100.61 273.81 99.55C274.34 98.49 275.32 97.53 275.58 96.42C275.84 95.30 275.32 94.02 275.39 92.86C275.45 91.70 275.81 90.61 275.98 89.46C276.16 88.31 276.87 86.83 276.43 85.94C276.00 85.06 274.30 84.74 273.36 84.16C272.43 83.57 271.24 83.33 270.80 82.45C270.37 81.56 271.16 79.90 270.76 78.85C270.36 77.80 269.24 77.02 268.42 76.15C267.60 75.28 266.29 74.06 265.87 73.64M350.29 90.09C349.86 89.69 348.66 88.39 347.76 87.68C346.86 86.97 345.50 86.71 344.88 85.84C344.27 84.97 344.29 83.63 344.05 82.48C343.81 81.34 343.97 79.98 343.45 78.99C342.92 78.00 341.63 77.46 340.89 76.54C340.16 75.62 339.69 74.47 339.05 73.46C338.41 72.45 337.68 71.49 337.05 70.48C336.42 69.46 335.47 68.48 335.28 67.37C335.09 66.26 335.37 64.83 335.90 63.83C336.44 62.82 337.59 62.09 338.50 61.33C339.40 60.57 340.87 59.63 341.34 59.29M336.94 64.11C337.40 63.75 338.91 62.76 339.72 61.93C340.53 61.09 340.98 59.92 341.81 59.11C342.64 58.31 343.72 57.72 344.70 57.09C345.68 56.47 347.18 55.66 347.68 55.37M324.89 55.53C325.23 56.02 326.71 57.38 326.91 58.46C327.12 59.53 326.50 60.83 326.13 61.97C325.75 63.10 325.04 64.11 324.66 65.24C324.28 66.37 324.25 67.62 323.86 68.74C323.48 69.86 322.82 70.91 322.33 71.97C321.84 73.03 321.49 74.14 320.92 75.11C320.36 76.08 319.85 77.31 318.94 77.79C318.02 78.26 316.41 77.50 315.42 77.97C314.43 78.44 313.87 79.79 312.99 80.59C312.12 81.39 310.64 82.41 310.18 82.78" stroke="#bdbdbd" stroke-width="0.65" fill="none"/><path d="M305.6 32V152.2" stroke="#7d7d7d" stroke-width="0.8" fill="none"/><path d="M309.7 32V152.2" stroke="#b5b5b5" stroke-width="0.9" fill="none"/><path d="M307.80 32.00C306.92 31.77 304.30 30.88 302.50 30.60C300.70 30.32 299.08 30.08 297.00 30.30C294.92 30.52 292.33 31.05 290.00 31.90C287.67 32.75 285.03 34.07 283.00 35.40C280.97 36.73 279.55 37.98 277.80 39.90C276.05 41.82 274.12 44.42 272.50 46.90C270.88 49.38 269.42 52.03 268.10 54.80C266.78 57.57 265.62 60.58 264.60 63.50C263.58 66.42 262.72 69.37 262.00 72.30C261.28 75.23 260.80 78.15 260.30 81.10C259.80 84.05 259.27 87.18 259.00 90.00C258.73 92.82 258.67 95.27 258.70 98.00C258.73 100.73 258.83 103.25 259.20 106.40C259.57 109.55 260.03 113.55 260.90 116.90C261.77 120.25 262.93 123.43 264.40 126.50C265.87 129.57 267.65 132.67 269.70 135.30C271.75 137.93 274.22 140.25 276.70 142.30C279.18 144.35 281.83 146.13 284.60 147.60C287.37 149.07 290.53 150.23 293.30 151.10C296.07 151.97 299.17 152.48 301.20 152.80C303.23 153.12 304.40 153.10 305.50 153.00C306.60 152.90 307.42 152.33 307.80 152.20M308.20 32.00C309.08 31.77 311.70 30.88 313.50 30.60C315.30 30.32 316.92 30.08 319.00 30.30C321.08 30.52 323.67 31.05 326.00 31.90C328.33 32.75 330.97 34.07 333.00 35.40C335.03 36.73 336.45 37.98 338.20 39.90C339.95 41.82 341.88 44.42 343.50 46.90C345.12 49.38 346.58 52.03 347.90 54.80C349.22 57.57 350.38 60.58 351.40 63.50C352.42 66.42 353.28 69.37 354.00 72.30C354.72 75.23 355.20 78.15 355.70 81.10C356.20 84.05 356.73 87.18 357.00 90.00C357.27 92.82 357.33 95.27 357.30 98.00C357.27 100.73 357.17 103.25 356.80 106.40C356.43 109.55 355.97 113.55 355.10 116.90C354.23 120.25 353.07 123.43 351.60 126.50C350.13 129.57 348.35 132.67 346.30 135.30C344.25 137.93 341.78 140.25 339.30 142.30C336.82 144.35 334.17 146.13 331.40 147.60C328.63 149.07 325.47 150.23 322.70 151.10C319.93 151.97 316.83 152.48 314.80 152.80C312.77 153.12 311.60 153.10 310.50 153.00C309.40 152.90 308.58 152.33 308.20 152.20" stroke="#3d3d3d" stroke-width="0.95" fill="none"/><path d="M275.8 80.3h0M307.2 37.3h0M332.9 115.4h0M343.1 122.3h0M324.2 143.2h0M313.6 133.0h0M327.2 36.6h0M271.2 84.5h0M270.6 118.8h0M294.2 74.2h0M351.3 103.0h0M338.9 62.6h0M271.3 62.3h0M307.4 49.2h0M349.0 66.3h0M310.8 111.9h0M330.0 80.8h0M338.6 114.4h0M347.2 108.4h0M327.5 137.5h0M269.3 79.2h0M332.6 66.2h0M352.9 86.2h0M305.2 103.9h0M328.8 111.1h0M284.6 125.8h0M333.0 97.1h0M290.4 59.3h0M328.2 66.7h0M322.7 70.1h0M298.6 90.2h0M326.8 52.0h0M301.5 63.4h0M336.6 126.3h0M267.1 113.6h0M276.3 84.5h0M302.7 115.7h0M319.4 51.6h0M349.5 72.4h0M309.0 59.1h0M281.1 71.2h0M285.6 48.7h0M318.5 127.0h0M297.4 106.0h0M284.8 108.4h0M290.3 69.1h0M274.0 78.5h0M308.1 133.6h0M350.9 88.0h0M341.4 56.9h0M286.4 93.7h0M279.6 74.4h0M277.7 133.2h0M331.9 42.6h0M327.9 64.4h0M324.2 118.6h0M301.5 119.8h0M335.5 117.9h0M336.4 47.2h0M336.8 102.6h0M285.7 52.8h0M299.7 71.5h0M328.2 75.1h0M325.7 49.3h0M293.8 43.0h0M325.0 106.0h0M323.1 92.4h0M342.1 84.1h0M268.2 62.7h0M292.5 113.6h0M280.4 57.2h0M322.3 35.2h0M331.9 83.5h0M309.5 42.9h0M339.2 82.7h0M312.1 50.3h0M340.0 128.0h0M310.1 146.1h0M281.2 86.0h0M336.3 69.6h0M322.2 102.7h0" stroke="#F4A04E" stroke-width="2.30" stroke-linecap="round" fill="none"/><path d="M270.5 127.8h0M337.9 84.7h0M266.8 121.7h0M309.2 98.7h0M284.7 122.8h0M319.4 93.7h0M266.0 108.6h0M328.7 132.9h0M282.5 135.6h0M323.3 135.2h0M317.7 133.6h0M303.6 78.1h0M274.0 60.5h0M265.0 112.0h0M346.2 122.3h0M286.3 119.1h0M347.2 102.9h0M279.8 52.7h0M352.2 106.8h0M344.0 90.6h0M316.8 58.6h0M314.9 124.6h0M316.0 41.2h0M311.5 117.3h0M322.7 111.0h0M313.6 142.7h0M321.5 76.8h0M328.3 114.1h0M267.7 116.4h0M297.2 127.6h0M276.2 72.0h0M289.4 100.1h0M302.7 106.2h0M273.8 136.7h0M333.9 110.1h0M336.7 92.5h0M277.2 109.3h0M336.9 67.1h0M328.9 145.0h0M289.6 92.1h0M321.9 59.2h0M317.8 43.9h0M294.5 131.3h0M309.6 121.7h0M342.0 78.8h0M289.5 76.8h0M289.5 136.3h0M278.4 97.0h0M316.6 94.6h0M297.1 123.0h0M331.1 124.8h0M304.7 34.0h0M311.9 37.9h0M295.7 54.5h0M301.7 53.2h0M271.6 73.9h0M344.7 64.2h0M292.9 40.5h0M300.6 58.1h0M297.9 57.0h0M277.4 57.6h0M341.0 72.4h0M297.3 62.1h0M321.4 41.1h0" stroke="#F5DE80" stroke-width="2.30" stroke-linecap="round" fill="none"/><path d="M262.6 86.0h0M266.6 82.4h0M335.4 84.4h0M333.9 92.9h0M273.4 88.7h0M313.7 109.0h0M282.2 116.8h0M339.7 92.6h0M327.8 102.0h0M262.7 82.7h0M280.6 93.2h0M288.5 79.2h0M315.6 118.0h0M339.3 100.9h0M310.2 81.3h0M269.9 108.4h0M354.1 88.3h0M343.4 100.4h0M316.9 87.8h0M296.9 84.9h0M326.3 85.6h0M346.5 99.3h0M332.7 86.1h0M349.2 114.6h0M317.7 98.1h0M283.6 93.2h0M312.7 97.0h0M333.5 106.3h0M266.5 99.6h0M275.5 102.5h0M333.3 90.3h0M279.0 81.6h0M303.7 87.0h0M308.0 89.2h0M310.0 90.5h0M290.0 86.2h0M314.3 106.0h0" stroke="#8BD89D" stroke-width="2.30" stroke-linecap="round" fill="none"/><path d="M307.8 102.2h0M282.2 104.5h0M294.0 120.4h0M278.8 105.2h0M299.4 132.2h0M297.8 138.2h0M292.8 127.0h0M293.6 144.2h0M276.3 125.8h0M313.8 129.4h0M281.6 112.1h0M280.6 130.5h0M315.0 148.2h0M317.3 121.5h0M287.3 132.5h0M294.0 140.9h0M289.7 142.8h0M332.9 141.0h0M319.5 109.4h0M326.5 129.0h0M270.8 125.5h0M274.6 128.5h0M303.1 143.1h0M315.9 103.5h0M293.8 147.4h0M268.8 123.5h0M304.5 146.7h0M334.3 112.4h0M327.3 119.1h0M288.0 114.9h0M278.7 138.3h0M326.4 146.3h0M326.4 123.0h0M279.2 113.9h0M280.5 124.5h0M271.7 129.8h0M299.4 124.7h0M336.3 134.1h0M289.7 127.1h0M291.6 137.3h0M307.7 140.2h0M319.9 144.1h0M279.1 111.0h0M294.4 125.0h0M277.8 124.0h0M300.2 139.9h0M300.1 135.8h0M279.6 141.0h0M300.6 113.9h0M300.2 146.0h0M317.4 141.6h0M339.4 120.2h0M333.2 122.6h0M282.7 141.2h0M315.4 137.0h0M290.4 124.3h0M306.7 116.6h0" stroke="#44A6AD" stroke-width="2.30" stroke-linecap="round" fill="none"/><path d="M306.4 106.6h0M287.2 83.1h0M330.4 119.0h0M327.5 90.0h0M319.6 122.1h0M313.3 84.8h0M311.8 53.7h0M290.4 50.3h0M317.4 90.6h0M273.3 95.0h0M333.6 80.9h0M283.5 88.3h0M271.2 81.2h0M305.6 97.7h0M278.7 135.6h0M346.8 81.4h0M293.7 105.0h0M273.4 99.7h0M281.2 41.3h0M324.6 81.3h0M286.2 143.1h0M329.6 104.1h0M275.7 131.7h0M320.2 90.3h0M310.2 101.3h0M265.6 103.4h0M323.3 85.0h0M292.0 92.3h0M338.1 43.9h0M341.1 113.4h0M313.3 44.0h0M322.8 146.7h0M319.7 80.1h0M266.0 92.2h0M303.5 43.4h0M326.0 96.0h0M344.6 82.3h0M304.3 136.6h0M284.0 70.4h0M341.1 89.7h0M331.0 88.4h0M300.0 94.6h0M275.1 91.9h0M300.8 84.7h0M287.9 59.1h0M299.1 86.9h0M300.8 37.0h0M288.2 97.1h0M323.4 50.7h0M308.2 83.0h0M299.2 81.4h0" stroke="#C4EE93" stroke-width="2.30" stroke-linecap="round" fill="none"/><path d="M262.0 102.6h0M306.2 75.7h0M304.5 54.6h0M327.2 55.9h0M341.1 116.7h0M303.3 48.2h0M299.0 45.4h0M315.3 36.1h0M311.3 69.2h0M339.2 50.9h0M304.2 59.9h0M342.0 67.3h0M275.9 137.7h0M318.0 39.3h0M330.6 59.8h0M292.0 34.1h0M350.3 118.1h0M302.9 71.8h0M291.1 65.9h0M306.2 47.2h0M344.1 59.1h0M333.9 45.0h0M315.1 73.2h0M322.5 56.9h0M323.4 72.9h0M313.7 67.5h0M350.2 92.5h0M295.1 65.9h0M349.9 80.6h0M318.2 62.6h0M300.8 68.8h0M310.7 74.7h0M310.8 57.7h0M276.8 118.2h0M331.7 70.8h0M279.7 64.0h0M337.4 60.8h0M324.3 78.6h0M299.5 39.1h0M269.6 71.2h0" stroke="#E9583B" stroke-width="2.30" stroke-linecap="round" fill="none"/></g></defs>
<text x="2.30" y="11.20" font-size="14.1" font-weight="bold" text-anchor="start" fill="#111" textLength="14.10" lengthAdjust="spacingAndGlyphs">A.</text>
<text x="0.20" y="327.40" font-size="13.95" font-weight="bold" text-anchor="start" fill="#111" textLength="12.50" lengthAdjust="spacingAndGlyphs">B.</text>
<text x="0.20" y="639.20" font-size="14.53" font-weight="bold" text-anchor="start" fill="#111" textLength="11.80" lengthAdjust="spacingAndGlyphs">C.</text>
<text x="393.90" y="11.20" font-size="14.1" font-weight="bold" text-anchor="start" fill="#111" textLength="14.10" lengthAdjust="spacingAndGlyphs">D.</text>
<text x="389.90" y="327.60" font-size="14.24" font-weight="bold" text-anchor="start" fill="#111" textLength="12.70" lengthAdjust="spacingAndGlyphs">E.</text>
<text x="388.80" y="639.70" font-size="13.81" font-weight="bold" text-anchor="start" fill="#111" textLength="10.00" lengthAdjust="spacingAndGlyphs">F.</text>
<text x="118.50" y="11.20" font-size="12.5" font-weight="bold" text-anchor="start" fill="#111" textLength="150.90" lengthAdjust="spacingAndGlyphs">Autism_P vs. Control_P</text>
<text x="121.20" y="328.00" font-size="14.53" font-weight="bold" text-anchor="start" fill="#111" textLength="150.20" lengthAdjust="spacingAndGlyphs">Autism_L vs. Control_P</text>
<text x="124.10" y="639.60" font-size="14.83" font-weight="bold" text-anchor="start" fill="#111" textLength="153.10" lengthAdjust="spacingAndGlyphs">Autism_H vs. Control_P</text>
<text x="474.30" y="11.00" font-size="12.21" font-weight="bold" text-anchor="start" fill="#111" textLength="151.30" lengthAdjust="spacingAndGlyphs">Autism_P vs. Control_P</text>
<text x="479.90" y="327.80" font-size="14.24" font-weight="bold" text-anchor="start" fill="#111" textLength="150.40" lengthAdjust="spacingAndGlyphs">Autism_L vs. Control_P</text>
<text x="481.80" y="639.80" font-size="13.66" font-weight="bold" text-anchor="start" fill="#111" textLength="152.30" lengthAdjust="spacingAndGlyphs">Autism_H vs. Control_P</text>
<text x="35.10" y="170.60" font-size="12.06" font-weight="normal" text-anchor="start" fill="#1a1a1a" textLength="55.10" lengthAdjust="spacingAndGlyphs">Back view</text>
<text x="136.70" y="170.60" font-size="12.06" font-weight="normal" text-anchor="start" fill="#1a1a1a" textLength="97.70" lengthAdjust="spacingAndGlyphs">Right hemisphere</text>
<text x="287.00" y="170.60" font-size="12.06" font-weight="normal" text-anchor="start" fill="#1a1a1a" textLength="48.90" lengthAdjust="spacingAndGlyphs">Top view</text>
<text x="36.70" y="485.70" font-size="12.79" font-weight="normal" text-anchor="start" fill="#1a1a1a" textLength="55.40" lengthAdjust="spacingAndGlyphs">Back view</text>
<text x="139.20" y="485.70" font-size="12.79" font-weight="normal" text-anchor="start" fill="#1a1a1a" textLength="97.10" lengthAdjust="spacingAndGlyphs">Right hemisphere</text>
<text x="288.30" y="485.70" font-size="12.79" font-weight="normal" text-anchor="start" fill="#1a1a1a" textLength="49.40" lengthAdjust="spacingAndGlyphs">Top view</text>
<text x="37.80" y="800.10" font-size="12.94" font-weight="normal" text-anchor="start" fill="#1a1a1a" textLength="54.30" lengthAdjust="spacingAndGlyphs">Back view</text>
<text x="139.50" y="800.10" font-size="12.94" font-weight="normal" text-anchor="start" fill="#1a1a1a" textLength="97.00" lengthAdjust="spacingAndGlyphs">Right hemisphere</text>
<text x="289.00" y="800.10" font-size="12.94" font-weight="normal" text-anchor="start" fill="#1a1a1a" textLength="49.50" lengthAdjust="spacingAndGlyphs">Top view</text>
<text x="26.00" y="38.10" font-size="11.34" font-weight="normal" text-anchor="start" fill="#1a1a1a">L</text>
<text x="102.60" y="38.10" font-size="11.34" font-weight="normal" text-anchor="start" fill="#1a1a1a">R</text>
<text x="260.90" y="37.60" font-size="11.34" font-weight="normal" text-anchor="start" fill="#1a1a1a">L</text>
<text x="352.30" y="37.60" font-size="11.34" font-weight="normal" text-anchor="start" fill="#1a1a1a">R</text>
<text x="21.60" y="352.80" font-size="11.92" font-weight="normal" text-anchor="start" fill="#1a1a1a">L</text>
<text x="106.10" y="352.20" font-size="11.92" font-weight="normal" text-anchor="start" fill="#1a1a1a">R</text>
<text x="262.10" y="354.00" font-size="11.92" font-weight="normal" text-anchor="start" fill="#1a1a1a">L</text>
<text x="359.60" y="353.20" font-size="11.92" font-weight="normal" text-anchor="start" fill="#1a1a1a">R</text>
<text x="17.80" y="665.40" font-size="11.34" font-weight="normal" text-anchor="start" fill="#1a1a1a">L</text>
<text x="110.20" y="665.00" font-size="11.34" font-weight="normal" text-anchor="start" fill="#1a1a1a">R</text>
<text x="262.10" y="663.60" font-size="11.34" font-weight="normal" text-anchor="start" fill="#1a1a1a">L</text>
<text x="361.00" y="663.00" font-size="11.34" font-weight="normal" text-anchor="start" fill="#1a1a1a">R</text>
<rect x="73.40" y="265.01" width="31.4" height="25.29" fill="#F2767F"/>
<rect x="120.45" y="238.92" width="31.4" height="51.38" fill="#EE9A47"/>
<rect x="261.60" y="276.49" width="31.4" height="13.81" fill="#48E021"/>
<rect x="308.65" y="273.08" width="31.4" height="17.22" fill="#68A6F8"/>
<path d="M57.50 189.40V291.20M56.60 290.30H350.70" stroke="#000" stroke-width="1.8" fill="none"/>
<path d="M52.30 290.30H57.50M52.30 256.93H57.50M52.30 223.57H57.50M52.30 190.20H57.50M83.20 290.30V295.10M130.25 290.30V295.10M177.30 290.30V295.10M224.35 290.30V295.10M271.40 290.30V295.10M318.45 290.30V295.10" stroke="#000" stroke-width="1.6" fill="none"/>
<text x="52.30" y="293.40" font-size="8.9" font-weight="bold" text-anchor="end" fill="#111" textLength="18.80" lengthAdjust="spacingAndGlyphs">0.00</text>
<text x="52.30" y="260.03" font-size="8.9" font-weight="bold" text-anchor="end" fill="#111" textLength="18.80" lengthAdjust="spacingAndGlyphs">0.05</text>
<text x="52.30" y="226.67" font-size="8.9" font-weight="bold" text-anchor="end" fill="#111" textLength="18.80" lengthAdjust="spacingAndGlyphs">0.10</text>
<text x="52.30" y="193.30" font-size="8.9" font-weight="bold" text-anchor="end" fill="#111" textLength="18.80" lengthAdjust="spacingAndGlyphs">0.15</text>
<text x="83.20" y="304.90" font-size="9.3" font-weight="bold" text-anchor="middle" fill="#111" textLength="17.60" lengthAdjust="spacingAndGlyphs">FPN</text>
<text x="130.25" y="304.90" font-size="9.3" font-weight="bold" text-anchor="middle" fill="#111" textLength="21.60" lengthAdjust="spacingAndGlyphs">DMN</text>
<text x="177.30" y="304.90" font-size="9.3" font-weight="bold" text-anchor="middle" fill="#111" textLength="19.70" lengthAdjust="spacingAndGlyphs">DAN</text>
<text x="224.35" y="304.90" font-size="9.3" font-weight="bold" text-anchor="middle" fill="#111" textLength="19.70" lengthAdjust="spacingAndGlyphs">VAN</text>
<text x="271.40" y="304.90" font-size="9.3" font-weight="bold" text-anchor="middle" fill="#111" textLength="21.00" lengthAdjust="spacingAndGlyphs">SMN</text>
<text x="318.45" y="304.90" font-size="9.3" font-weight="bold" text-anchor="middle" fill="#111" textLength="12.50" lengthAdjust="spacingAndGlyphs">VN</text>
<text x="26.90" y="239.25" font-size="9.6" font-weight="bold" text-anchor="middle" fill="#111" textLength="74.50" lengthAdjust="spacingAndGlyphs" transform="rotate(-90.00 26.90 239.25)">Participant ratio</text>
<rect x="73.40" y="587.19" width="31.4" height="12.41" fill="#F2767F"/>
<rect x="120.45" y="577.78" width="31.4" height="21.82" fill="#EE9A47"/>
<rect x="214.55" y="580.45" width="31.4" height="19.15" fill="#B2E6AD"/>
<rect x="261.60" y="585.25" width="31.4" height="14.35" fill="#48E021"/>
<rect x="308.65" y="591.06" width="31.4" height="8.54" fill="#68A6F8"/>
<path d="M57.60 498.70V600.50M56.70 599.60H350.70" stroke="#000" stroke-width="1.8" fill="none"/>
<path d="M52.40 599.60H57.60M52.40 566.23H57.60M52.40 532.87H57.60M52.40 499.50H57.60M83.20 599.60V604.40M130.25 599.60V604.40M177.30 599.60V604.40M224.35 599.60V604.40M271.40 599.60V604.40M318.45 599.60V604.40" stroke="#000" stroke-width="1.6" fill="none"/>
<text x="52.30" y="602.70" font-size="8.9" font-weight="bold" text-anchor="end" fill="#111" textLength="18.80" lengthAdjust="spacingAndGlyphs">0.00</text>
<text x="52.30" y="569.33" font-size="8.9" font-weight="bold" text-anchor="end" fill="#111" textLength="18.80" lengthAdjust="spacingAndGlyphs">0.05</text>
<text x="52.30" y="535.97" font-size="8.9" font-weight="bold" text-anchor="end" fill="#111" textLength="18.80" lengthAdjust="spacingAndGlyphs">0.10</text>
<text x="52.30" y="502.60" font-size="8.9" font-weight="bold" text-anchor="end" fill="#111" textLength="18.80" lengthAdjust="spacingAndGlyphs">0.15</text>
<text x="83.20" y="614.20" font-size="9.3" font-weight="bold" text-anchor="middle" fill="#111" textLength="17.60" lengthAdjust="spacingAndGlyphs">FPN</text>
<text x="130.25" y="614.20" font-size="9.3" font-weight="bold" text-anchor="middle" fill="#111" textLength="21.60" lengthAdjust="spacingAndGlyphs">DMN</text>
<text x="177.30" y="614.20" font-size="9.3" font-weight="bold" text-anchor="middle" fill="#111" textLength="19.70" lengthAdjust="spacingAndGlyphs">DAN</text>
<text x="224.35" y="614.20" font-size="9.3" font-weight="bold" text-anchor="middle" fill="#111" textLength="19.70" lengthAdjust="spacingAndGlyphs">VAN</text>
<text x="271.40" y="614.20" font-size="9.3" font-weight="bold" text-anchor="middle" fill="#111" textLength="21.00" lengthAdjust="spacingAndGlyphs">SMN</text>
<text x="318.45" y="614.20" font-size="9.3" font-weight="bold" text-anchor="middle" fill="#111" textLength="12.50" lengthAdjust="spacingAndGlyphs">VN</text>
<text x="26.90" y="548.55" font-size="9.6" font-weight="bold" text-anchor="middle" fill="#111" textLength="74.50" lengthAdjust="spacingAndGlyphs" transform="rotate(-90.00 26.90 548.55)">Participant ratio</text>
<rect x="73.40" y="899.82" width="31.4" height="12.38" fill="#F2767F"/>
<rect x="120.45" y="853.77" width="31.4" height="58.43" fill="#EE9A47"/>
<rect x="167.50" y="897.81" width="31.4" height="14.39" fill="#D5DC9B"/>
<rect x="261.60" y="840.72" width="31.4" height="71.48" fill="#48E021"/>
<path d="M57.50 811.00V913.10M56.60 912.20H350.70" stroke="#000" stroke-width="1.8" fill="none"/>
<path d="M52.30 912.20H57.50M52.30 878.73H57.50M52.30 845.27H57.50M52.30 811.80H57.50M83.20 912.20V917.00M130.25 912.20V917.00M177.30 912.20V917.00M224.35 912.20V917.00M271.40 912.20V917.00M318.45 912.20V917.00" stroke="#000" stroke-width="1.6" fill="none"/>
<text x="52.30" y="915.30" font-size="8.9" font-weight="bold" text-anchor="end" fill="#111" textLength="18.80" lengthAdjust="spacingAndGlyphs">0.00</text>
<text x="52.30" y="881.83" font-size="8.9" font-weight="bold" text-anchor="end" fill="#111" textLength="18.80" lengthAdjust="spacingAndGlyphs">0.05</text>
<text x="52.30" y="848.37" font-size="8.9" font-weight="bold" text-anchor="end" fill="#111" textLength="18.80" lengthAdjust="spacingAndGlyphs">0.10</text>
<text x="52.30" y="814.90" font-size="8.9" font-weight="bold" text-anchor="end" fill="#111" textLength="18.80" lengthAdjust="spacingAndGlyphs">0.15</text>
<text x="83.20" y="926.80" font-size="9.3" font-weight="bold" text-anchor="middle" fill="#111" textLength="17.60" lengthAdjust="spacingAndGlyphs">FPN</text>
<text x="130.25" y="926.80" font-size="9.3" font-weight="bold" text-anchor="middle" fill="#111" textLength="21.60" lengthAdjust="spacingAndGlyphs">DMN</text>
<text x="177.30" y="926.80" font-size="9.3" font-weight="bold" text-anchor="middle" fill="#111" textLength="19.70" lengthAdjust="spacingAndGlyphs">DAN</text>
<text x="224.35" y="926.80" font-size="9.3" font-weight="bold" text-anchor="middle" fill="#111" textLength="19.70" lengthAdjust="spacingAndGlyphs">VAN</text>
<text x="271.40" y="926.80" font-size="9.3" font-weight="bold" text-anchor="middle" fill="#111" textLength="21.00" lengthAdjust="spacingAndGlyphs">SMN</text>
<text x="318.45" y="926.80" font-size="9.3" font-weight="bold" text-anchor="middle" fill="#111" textLength="12.50" lengthAdjust="spacingAndGlyphs">VN</text>
<text x="26.90" y="861.00" font-size="9.6" font-weight="bold" text-anchor="middle" fill="#111" textLength="74.50" lengthAdjust="spacingAndGlyphs" transform="rotate(-90.00 26.90 861.00)">Participant ratio</text>
<path d="M556.32 32.65A115.0 115.0 0 0 1 627.42 63.57L624.89 66.27A111.3 111.3 0 0 0 556.08 36.34Z" fill="#E8623B" stroke="#2a2a2a" stroke-width="0.55" stroke-opacity="0.8"/>
<text x="555.69" y="42.23" font-size="10" text-anchor="middle" dominant-baseline="central" fill="#111" font-style="italic" transform="rotate(-86.2 555.69 42.23)">&#952;</text>
<text x="579.40" y="46.57" font-size="10" text-anchor="middle" dominant-baseline="central" fill="#111" font-style="italic" transform="rotate(-73.1 579.40 46.57)">&#945;</text>
<text x="601.51" y="56.18" font-size="10" text-anchor="middle" dominant-baseline="central" fill="#111" font-style="italic" transform="rotate(-59.9 601.51 56.18)">&#946;</text>
<text x="620.85" y="70.57" font-size="10" text-anchor="middle" dominant-baseline="central" fill="#111" font-style="italic" transform="rotate(-46.8 620.85 70.57)">&#947;</text>
<text x="598.70" y="36.10" font-size="11.4" text-anchor="middle" dominant-baseline="central" fill="#1a1a1a" textLength="24.0" lengthAdjust="spacingAndGlyphs" transform="rotate(24.2 598.70 36.10)">FPN</text>
<path d="M638.70 75.81A115.0 115.0 0 0 1 647.89 205.59L644.70 203.72A111.3 111.3 0 0 0 635.80 78.11Z" fill="#F2AA56" stroke="#2a2a2a" stroke-width="0.55" stroke-opacity="0.8"/>
<text x="631.19" y="81.79" font-size="10" text-anchor="middle" dominant-baseline="central" fill="#111" font-style="italic" transform="rotate(-38.5 631.19 81.79)">&#952;</text>
<text x="650.25" y="119.17" font-size="10" text-anchor="middle" dominant-baseline="central" fill="#111" font-style="italic" transform="rotate(-15.5 650.25 119.17)">&#945;</text>
<text x="653.21" y="161.04" font-size="10" text-anchor="middle" dominant-baseline="central" fill="#111" font-style="italic" transform="rotate(7.4 653.21 161.04)">&#946;</text>
<text x="639.61" y="200.74" font-size="10" text-anchor="middle" dominant-baseline="central" fill="#111" font-style="italic" transform="rotate(30.4 639.61 200.74)">&#947;</text>
<text x="671.80" y="134.30" font-size="11.4" text-anchor="middle" dominant-baseline="central" fill="#1a1a1a" textLength="27.5" lengthAdjust="spacingAndGlyphs" transform="rotate(83.9 671.80 134.30)">DMN</text>
<path d="M638.07 219.77A115.0 115.0 0 0 1 581.75 257.55L580.68 254.01A111.3 111.3 0 0 0 635.20 217.44Z" fill="#EEE78B" stroke="#2a2a2a" stroke-width="0.55" stroke-opacity="0.8"/>
<text x="630.61" y="213.73" font-size="10" text-anchor="middle" dominant-baseline="central" fill="#111" font-style="italic" transform="rotate(39.0 630.61 213.73)">&#952;</text>
<text x="615.84" y="228.65" font-size="10" text-anchor="middle" dominant-baseline="central" fill="#111" font-style="italic" transform="rotate(50.4 615.84 228.65)">&#945;</text>
<text x="598.40" y="240.35" font-size="10" text-anchor="middle" dominant-baseline="central" fill="#111" font-style="italic" transform="rotate(61.9 598.40 240.35)">&#946;</text>
<text x="578.99" y="248.35" font-size="10" text-anchor="middle" dominant-baseline="central" fill="#111" font-style="italic" transform="rotate(73.3 578.99 248.35)">&#947;</text>
<text x="617.30" y="255.70" font-size="11.4" text-anchor="middle" dominant-baseline="central" fill="#1a1a1a" textLength="24.5" lengthAdjust="spacingAndGlyphs" transform="rotate(-32.4 617.30 255.70)">DAN</text>
<path d="M565.10 261.22A115.0 115.0 0 0 1 525.77 260.09L526.51 256.47A111.3 111.3 0 0 0 564.57 257.56Z" fill="#EEF6B2" stroke="#2a2a2a" stroke-width="0.55" stroke-opacity="0.8"/>
<text x="563.73" y="251.72" font-size="10" text-anchor="middle" dominant-baseline="central" fill="#111" font-style="italic" transform="rotate(81.8 563.73 251.72)">&#952;</text>
<text x="551.70" y="252.76" font-size="10" text-anchor="middle" dominant-baseline="central" fill="#111" font-style="italic" transform="rotate(88.4 551.70 252.76)">&#945;</text>
<text x="539.64" y="252.41" font-size="10" text-anchor="middle" dominant-baseline="central" fill="#111" font-style="italic" transform="rotate(274.9 539.64 252.41)">&#946;</text>
<text x="527.69" y="250.68" font-size="10" text-anchor="middle" dominant-baseline="central" fill="#111" font-style="italic" transform="rotate(281.5 527.69 250.68)">&#947;</text>
<text x="545.30" y="275.60" font-size="11.4" text-anchor="middle" dominant-baseline="central" fill="#1a1a1a" textLength="15.5" lengthAdjust="spacingAndGlyphs" transform="rotate(1.5 545.30 275.60)">LN</text>
<path d="M510.50 255.87A115.0 115.0 0 0 1 454.15 212.87L457.20 210.76A111.3 111.3 0 0 0 511.73 252.38Z" fill="#CAF29A" stroke="#2a2a2a" stroke-width="0.55" stroke-opacity="0.8"/>
<text x="513.69" y="246.82" font-size="10" text-anchor="middle" dominant-baseline="central" fill="#111" font-style="italic" transform="rotate(289.4 513.69 246.82)">&#952;</text>
<text x="493.84" y="237.40" font-size="10" text-anchor="middle" dominant-baseline="central" fill="#111" font-style="italic" transform="rotate(301.4 493.84 237.40)">&#945;</text>
<text x="476.37" y="224.07" font-size="10" text-anchor="middle" dominant-baseline="central" fill="#111" font-style="italic" transform="rotate(313.3 476.37 224.07)">&#946;</text>
<text x="462.05" y="207.40" font-size="10" text-anchor="middle" dominant-baseline="central" fill="#111" font-style="italic" transform="rotate(325.3 462.05 207.40)">&#947;</text>
<text x="469.50" y="249.30" font-size="11.4" text-anchor="middle" dominant-baseline="central" fill="#1a1a1a" textLength="24.5" lengthAdjust="spacingAndGlyphs" transform="rotate(37.9 469.50 249.30)">VAN</text>
<path d="M445.78 198.71A115.0 115.0 0 0 1 450.44 87.66L453.60 89.58A111.3 111.3 0 0 0 449.09 197.06Z" fill="#8ADBA3" stroke="#2a2a2a" stroke-width="0.55" stroke-opacity="0.8"/>
<text x="454.37" y="194.43" font-size="10" text-anchor="middle" dominant-baseline="central" fill="#111" font-style="italic" transform="rotate(333.5 454.37 194.43)">&#952;</text>
<text x="444.14" y="160.67" font-size="10" text-anchor="middle" dominant-baseline="central" fill="#111" font-style="italic" transform="rotate(352.8 444.14 160.67)">&#945;</text>
<text x="445.62" y="125.43" font-size="10" text-anchor="middle" dominant-baseline="central" fill="#111" font-style="italic" transform="rotate(372.0 445.62 125.43)">&#946;</text>
<text x="458.64" y="92.64" font-size="10" text-anchor="middle" dominant-baseline="central" fill="#111" font-style="italic" transform="rotate(391.3 458.64 92.64)">&#947;</text>
<text x="425.40" y="139.60" font-size="11.4" text-anchor="middle" dominant-baseline="central" fill="#1a1a1a" textLength="25.3" lengthAdjust="spacingAndGlyphs" transform="rotate(-86.4 425.40 139.60)">SMN</text>
<path d="M460.22 73.94A115.0 115.0 0 0 1 540.48 32.69L540.74 36.38A111.3 111.3 0 0 0 463.07 76.31Z" fill="#53ABAD" stroke="#2a2a2a" stroke-width="0.55" stroke-opacity="0.8"/>
<text x="467.61" y="80.07" font-size="10" text-anchor="middle" dominant-baseline="central" fill="#111" font-style="italic" transform="rotate(399.7 467.61 80.07)">&#952;</text>
<text x="488.40" y="60.96" font-size="10" text-anchor="middle" dominant-baseline="central" fill="#111" font-style="italic" transform="rotate(415.1 488.40 60.96)">&#945;</text>
<text x="513.52" y="48.05" font-size="10" text-anchor="middle" dominant-baseline="central" fill="#111" font-style="italic" transform="rotate(430.5 513.52 48.05)">&#946;</text>
<text x="541.16" y="42.27" font-size="10" text-anchor="middle" dominant-baseline="central" fill="#111" font-style="italic" transform="rotate(445.9 541.16 42.27)">&#947;</text>
<text x="490.50" y="38.10" font-size="11.4" text-anchor="middle" dominant-baseline="central" fill="#1a1a1a" textLength="17.0" lengthAdjust="spacingAndGlyphs" transform="rotate(-28.0 490.50 38.10)">VN</text>
<path d="M562.82 245.39Q548.70 147.40 541.62 48.65" fill="none" stroke="#B9B0EE" stroke-opacity="0.75" stroke-width="0.9" stroke-linecap="round"/>
<path d="M546.22 53.68L541.62 48.65L537.78 54.28" fill="none" stroke="#B9B0EE" stroke-opacity="0.85" stroke-width="0.9" stroke-linejoin="miter" stroke-linecap="round"/>
<path d="M577.53 52.69Q563.20 141.90 515.82 240.78" fill="none" stroke="#B9B0EE" stroke-opacity="0.75" stroke-width="0.9" stroke-linecap="round"/>
<path d="M626.18 85.77Q548.70 147.40 528.96 244.41" fill="none" stroke="#B9B0EE" stroke-opacity="0.75" stroke-width="2.0" stroke-linecap="round"/>
<path d="M525.26 237.54L528.96 244.41L535.06 239.53" fill="none" stroke="#B9B0EE" stroke-opacity="0.85" stroke-width="2.0" stroke-linejoin="miter" stroke-linecap="round"/>
<path d="M626.18 85.77Q548.70 147.40 540.19 246.03" fill="none" stroke="#B9B0EE" stroke-opacity="0.75" stroke-width="2.0" stroke-linecap="round"/>
<path d="M535.72 239.63L540.19 246.03L545.68 240.49" fill="none" stroke="#B9B0EE" stroke-opacity="0.85" stroke-width="2.0" stroke-linejoin="miter" stroke-linecap="round"/>
<path d="M460.10 191.57Q548.70 147.40 528.96 244.41" fill="none" stroke="#B9B0EE" stroke-opacity="0.75" stroke-width="2.0" stroke-linecap="round"/>
<path d="M525.26 237.54L528.96 244.41L535.06 239.53" fill="none" stroke="#B9B0EE" stroke-opacity="0.85" stroke-width="2.0" stroke-linejoin="miter" stroke-linecap="round"/>
<path d="M460.10 191.57Q548.70 147.40 540.19 246.03" fill="none" stroke="#B9B0EE" stroke-opacity="0.75" stroke-width="2.0" stroke-linecap="round"/>
<path d="M535.72 239.63L540.19 246.03L545.68 240.49" fill="none" stroke="#B9B0EE" stroke-opacity="0.85" stroke-width="2.0" stroke-linejoin="miter" stroke-linecap="round"/>
<path d="M562.82 245.39Q548.70 147.40 646.87 160.21" fill="none" stroke="#B9B0EE" stroke-opacity="0.75" stroke-width="1.6" stroke-linecap="round"/>
<path d="M640.55 164.14L646.87 160.21L641.77 154.78" fill="none" stroke="#B9B0EE" stroke-opacity="0.85" stroke-width="1.6" stroke-linejoin="miter" stroke-linecap="round"/>
<path d="M562.82 245.39Q548.70 147.40 634.09 197.50" fill="none" stroke="#B9B0EE" stroke-opacity="0.75" stroke-width="1.6" stroke-linecap="round"/>
<path d="M626.73 198.65L634.09 197.50L631.51 190.51" fill="none" stroke="#B9B0EE" stroke-opacity="0.85" stroke-width="1.6" stroke-linejoin="miter" stroke-linecap="round"/>
<path d="M559.94 348.16A117.5 117.5 0 0 1 632.58 379.75L630.05 382.44A113.8 113.8 0 0 0 559.69 351.85Z" fill="#E8623B" stroke="#2a2a2a" stroke-width="0.55" stroke-opacity="0.8"/>
<text x="559.30" y="357.74" font-size="10" text-anchor="middle" dominant-baseline="central" fill="#111" font-style="italic" transform="rotate(-86.2 559.30 357.74)">&#952;</text>
<text x="583.58" y="362.18" font-size="10" text-anchor="middle" dominant-baseline="central" fill="#111" font-style="italic" transform="rotate(-73.1 583.58 362.18)">&#945;</text>
<text x="606.21" y="372.02" font-size="10" text-anchor="middle" dominant-baseline="central" fill="#111" font-style="italic" transform="rotate(-59.9 606.21 372.02)">&#946;</text>
<text x="626.01" y="386.74" font-size="10" text-anchor="middle" dominant-baseline="central" fill="#111" font-style="italic" transform="rotate(-46.8 626.01 386.74)">&#947;</text>
<text x="604.00" y="353.60" font-size="11.4" text-anchor="middle" dominant-baseline="central" fill="#1a1a1a" textLength="24.0" lengthAdjust="spacingAndGlyphs" transform="rotate(24.9 604.00 353.60)">FPN</text>
<path d="M644.11 392.25A117.5 117.5 0 0 1 653.50 524.86L650.30 522.99A113.8 113.8 0 0 0 641.21 394.56Z" fill="#F2AA56" stroke="#2a2a2a" stroke-width="0.55" stroke-opacity="0.8"/>
<text x="636.59" y="398.23" font-size="10" text-anchor="middle" dominant-baseline="central" fill="#111" font-style="italic" transform="rotate(-38.5 636.59 398.23)">&#952;</text>
<text x="656.11" y="436.50" font-size="10" text-anchor="middle" dominant-baseline="central" fill="#111" font-style="italic" transform="rotate(-15.5 656.11 436.50)">&#945;</text>
<text x="659.14" y="479.36" font-size="10" text-anchor="middle" dominant-baseline="central" fill="#111" font-style="italic" transform="rotate(7.4 659.14 479.36)">&#946;</text>
<text x="645.22" y="520.00" font-size="10" text-anchor="middle" dominant-baseline="central" fill="#111" font-style="italic" transform="rotate(30.4 645.22 520.00)">&#947;</text>
<text x="677.50" y="457.50" font-size="11.4" text-anchor="middle" dominant-baseline="central" fill="#1a1a1a" textLength="27.5" lengthAdjust="spacingAndGlyphs" transform="rotate(86.4 677.50 457.50)">DMN</text>
<path d="M643.46 539.35A117.5 117.5 0 0 1 585.91 577.94L584.85 574.40A113.8 113.8 0 0 0 640.59 537.02Z" fill="#EEE78B" stroke="#2a2a2a" stroke-width="0.55" stroke-opacity="0.8"/>
<text x="636.00" y="533.30" font-size="10" text-anchor="middle" dominant-baseline="central" fill="#111" font-style="italic" transform="rotate(39.0 636.00 533.30)">&#952;</text>
<text x="620.88" y="548.58" font-size="10" text-anchor="middle" dominant-baseline="central" fill="#111" font-style="italic" transform="rotate(50.4 620.88 548.58)">&#945;</text>
<text x="603.03" y="560.55" font-size="10" text-anchor="middle" dominant-baseline="central" fill="#111" font-style="italic" transform="rotate(61.9 603.03 560.55)">&#946;</text>
<text x="583.16" y="568.75" font-size="10" text-anchor="middle" dominant-baseline="central" fill="#111" font-style="italic" transform="rotate(73.3 583.16 568.75)">&#947;</text>
<text x="627.90" y="571.30" font-size="11.4" text-anchor="middle" dominant-baseline="central" fill="#1a1a1a" textLength="24.5" lengthAdjust="spacingAndGlyphs" transform="rotate(-35.6 627.90 571.30)">DAN</text>
<path d="M568.91 581.70A117.5 117.5 0 0 1 528.72 580.54L529.46 576.92A113.8 113.8 0 0 0 568.38 578.04Z" fill="#EEF6B2" stroke="#2a2a2a" stroke-width="0.55" stroke-opacity="0.8"/>
<text x="567.54" y="572.20" font-size="10" text-anchor="middle" dominant-baseline="central" fill="#111" font-style="italic" transform="rotate(81.8 567.54 572.20)">&#952;</text>
<text x="555.23" y="573.26" font-size="10" text-anchor="middle" dominant-baseline="central" fill="#111" font-style="italic" transform="rotate(88.4 555.23 573.26)">&#945;</text>
<text x="542.87" y="572.90" font-size="10" text-anchor="middle" dominant-baseline="central" fill="#111" font-style="italic" transform="rotate(274.9 542.87 572.90)">&#946;</text>
<text x="530.64" y="571.13" font-size="10" text-anchor="middle" dominant-baseline="central" fill="#111" font-style="italic" transform="rotate(281.5 530.64 571.13)">&#947;</text>
<text x="549.80" y="596.40" font-size="11.4" text-anchor="middle" dominant-baseline="central" fill="#1a1a1a" textLength="15.5" lengthAdjust="spacingAndGlyphs" transform="rotate(1.0 549.80 596.40)">LN</text>
<path d="M513.12 576.23A117.5 117.5 0 0 1 455.55 532.29L458.59 530.18A113.8 113.8 0 0 0 514.35 572.74Z" fill="#CAF29A" stroke="#2a2a2a" stroke-width="0.55" stroke-opacity="0.8"/>
<text x="516.31" y="567.17" font-size="10" text-anchor="middle" dominant-baseline="central" fill="#111" font-style="italic" transform="rotate(289.4 516.31 567.17)">&#952;</text>
<text x="495.99" y="557.53" font-size="10" text-anchor="middle" dominant-baseline="central" fill="#111" font-style="italic" transform="rotate(301.4 495.99 557.53)">&#945;</text>
<text x="478.10" y="543.88" font-size="10" text-anchor="middle" dominant-baseline="central" fill="#111" font-style="italic" transform="rotate(313.3 478.10 543.88)">&#946;</text>
<text x="463.44" y="526.83" font-size="10" text-anchor="middle" dominant-baseline="central" fill="#111" font-style="italic" transform="rotate(325.3 463.44 526.83)">&#947;</text>
<text x="469.50" y="565.90" font-size="11.4" text-anchor="middle" dominant-baseline="central" fill="#1a1a1a" textLength="24.5" lengthAdjust="spacingAndGlyphs" transform="rotate(39.4 469.50 565.90)">VAN</text>
<path d="M447.00 517.83A117.5 117.5 0 0 1 451.75 404.36L454.91 406.28A113.8 113.8 0 0 0 450.31 516.18Z" fill="#8ADBA3" stroke="#2a2a2a" stroke-width="0.55" stroke-opacity="0.8"/>
<text x="455.59" y="513.54" font-size="10" text-anchor="middle" dominant-baseline="central" fill="#111" font-style="italic" transform="rotate(333.5 455.59 513.54)">&#952;</text>
<text x="445.11" y="478.99" font-size="10" text-anchor="middle" dominant-baseline="central" fill="#111" font-style="italic" transform="rotate(352.8 445.11 478.99)">&#945;</text>
<text x="446.62" y="442.90" font-size="10" text-anchor="middle" dominant-baseline="central" fill="#111" font-style="italic" transform="rotate(372.0 446.62 442.90)">&#946;</text>
<text x="459.95" y="409.34" font-size="10" text-anchor="middle" dominant-baseline="central" fill="#111" font-style="italic" transform="rotate(391.3 459.95 409.34)">&#947;</text>
<text x="427.30" y="457.20" font-size="11.4" text-anchor="middle" dominant-baseline="central" fill="#1a1a1a" textLength="25.3" lengthAdjust="spacingAndGlyphs" transform="rotate(-86.2 427.30 457.20)">SMN</text>
<path d="M461.75 390.34A117.5 117.5 0 0 1 543.75 348.20L544.01 351.89A113.8 113.8 0 0 0 464.59 392.71Z" fill="#53ABAD" stroke="#2a2a2a" stroke-width="0.55" stroke-opacity="0.8"/>
<text x="469.13" y="396.48" font-size="10" text-anchor="middle" dominant-baseline="central" fill="#111" font-style="italic" transform="rotate(399.7 469.13 396.48)">&#952;</text>
<text x="490.42" y="376.91" font-size="10" text-anchor="middle" dominant-baseline="central" fill="#111" font-style="italic" transform="rotate(415.1 490.42 376.91)">&#945;</text>
<text x="516.13" y="363.69" font-size="10" text-anchor="middle" dominant-baseline="central" fill="#111" font-style="italic" transform="rotate(430.5 516.13 363.69)">&#946;</text>
<text x="544.44" y="357.78" font-size="10" text-anchor="middle" dominant-baseline="central" fill="#111" font-style="italic" transform="rotate(445.9 544.44 357.78)">&#947;</text>
<text x="492.30" y="355.30" font-size="11.4" text-anchor="middle" dominant-baseline="central" fill="#1a1a1a" textLength="17.0" lengthAdjust="spacingAndGlyphs" transform="rotate(-28.5 492.30 355.30)">VN</text>
<path d="M561.33 661.86A116.7 116.7 0 0 1 633.49 693.23L630.95 695.93A113.0 113.0 0 0 0 561.09 665.55Z" fill="#E8623B" stroke="#2a2a2a" stroke-width="0.55" stroke-opacity="0.8"/>
<text x="560.70" y="671.44" font-size="10" text-anchor="middle" dominant-baseline="central" fill="#111" font-style="italic" transform="rotate(-86.2 560.70 671.44)">&#952;</text>
<text x="584.79" y="675.84" font-size="10" text-anchor="middle" dominant-baseline="central" fill="#111" font-style="italic" transform="rotate(-73.1 584.79 675.84)">&#945;</text>
<text x="607.26" y="685.61" font-size="10" text-anchor="middle" dominant-baseline="central" fill="#111" font-style="italic" transform="rotate(-59.9 607.26 685.61)">&#946;</text>
<text x="626.91" y="700.23" font-size="10" text-anchor="middle" dominant-baseline="central" fill="#111" font-style="italic" transform="rotate(-46.8 626.91 700.23)">&#947;</text>
<text x="609.00" y="669.90" font-size="11.4" text-anchor="middle" dominant-baseline="central" fill="#1a1a1a" textLength="24.0" lengthAdjust="spacingAndGlyphs" transform="rotate(27.1 609.00 669.90)">FPN</text>
<path d="M644.93 705.65A116.7 116.7 0 0 1 654.26 837.35L651.06 835.48A113.0 113.0 0 0 0 642.03 707.96Z" fill="#F2AA56" stroke="#2a2a2a" stroke-width="0.55" stroke-opacity="0.8"/>
<text x="637.42" y="711.63" font-size="10" text-anchor="middle" dominant-baseline="central" fill="#111" font-style="italic" transform="rotate(-38.5 637.42 711.63)">&#952;</text>
<text x="656.79" y="749.62" font-size="10" text-anchor="middle" dominant-baseline="central" fill="#111" font-style="italic" transform="rotate(-15.5 656.79 749.62)">&#945;</text>
<text x="659.80" y="792.16" font-size="10" text-anchor="middle" dominant-baseline="central" fill="#111" font-style="italic" transform="rotate(7.4 659.80 792.16)">&#946;</text>
<text x="645.98" y="832.50" font-size="10" text-anchor="middle" dominant-baseline="central" fill="#111" font-style="italic" transform="rotate(30.4 645.98 832.50)">&#947;</text>
<text x="679.40" y="776.30" font-size="11.4" text-anchor="middle" dominant-baseline="central" fill="#1a1a1a" textLength="27.5" lengthAdjust="spacingAndGlyphs" transform="rotate(89.1 679.40 776.30)">DMN</text>
<path d="M644.29 851.74A116.7 116.7 0 0 1 587.13 890.08L586.07 886.53A113.0 113.0 0 0 0 641.42 849.41Z" fill="#EEE78B" stroke="#2a2a2a" stroke-width="0.55" stroke-opacity="0.8"/>
<text x="636.83" y="845.70" font-size="10" text-anchor="middle" dominant-baseline="central" fill="#111" font-style="italic" transform="rotate(39.0 636.83 845.70)">&#952;</text>
<text x="621.82" y="860.86" font-size="10" text-anchor="middle" dominant-baseline="central" fill="#111" font-style="italic" transform="rotate(50.4 621.82 860.86)">&#945;</text>
<text x="604.10" y="872.75" font-size="10" text-anchor="middle" dominant-baseline="central" fill="#111" font-style="italic" transform="rotate(61.9 604.10 872.75)">&#946;</text>
<text x="584.38" y="880.88" font-size="10" text-anchor="middle" dominant-baseline="central" fill="#111" font-style="italic" transform="rotate(73.3 584.38 880.88)">&#947;</text>
<text x="627.90" y="885.70" font-size="11.4" text-anchor="middle" dominant-baseline="central" fill="#1a1a1a" textLength="24.5" lengthAdjust="spacingAndGlyphs" transform="rotate(-34.7 627.90 885.70)">DAN</text>
<path d="M570.24 893.81A116.7 116.7 0 0 1 530.33 892.66L531.07 889.03A113.0 113.0 0 0 0 569.72 890.14Z" fill="#EEF6B2" stroke="#2a2a2a" stroke-width="0.55" stroke-opacity="0.8"/>
<text x="568.88" y="884.31" font-size="10" text-anchor="middle" dominant-baseline="central" fill="#111" font-style="italic" transform="rotate(81.8 568.88 884.31)">&#952;</text>
<text x="556.65" y="885.36" font-size="10" text-anchor="middle" dominant-baseline="central" fill="#111" font-style="italic" transform="rotate(88.4 556.65 885.36)">&#945;</text>
<text x="544.39" y="885.00" font-size="10" text-anchor="middle" dominant-baseline="central" fill="#111" font-style="italic" transform="rotate(274.9 544.39 885.00)">&#946;</text>
<text x="532.25" y="883.25" font-size="10" text-anchor="middle" dominant-baseline="central" fill="#111" font-style="italic" transform="rotate(281.5 532.25 883.25)">&#947;</text>
<text x="549.20" y="908.20" font-size="11.4" text-anchor="middle" dominant-baseline="central" fill="#1a1a1a" textLength="15.5" lengthAdjust="spacingAndGlyphs" transform="rotate(1.9 549.20 908.20)">LN</text>
<path d="M514.84 888.37A116.7 116.7 0 0 1 457.66 844.73L460.70 842.63A113.0 113.0 0 0 0 516.07 884.88Z" fill="#CAF29A" stroke="#2a2a2a" stroke-width="0.55" stroke-opacity="0.8"/>
<text x="518.03" y="879.32" font-size="10" text-anchor="middle" dominant-baseline="central" fill="#111" font-style="italic" transform="rotate(289.4 518.03 879.32)">&#952;</text>
<text x="497.85" y="869.75" font-size="10" text-anchor="middle" dominant-baseline="central" fill="#111" font-style="italic" transform="rotate(301.4 497.85 869.75)">&#945;</text>
<text x="480.10" y="856.20" font-size="10" text-anchor="middle" dominant-baseline="central" fill="#111" font-style="italic" transform="rotate(313.3 480.10 856.20)">&#946;</text>
<text x="465.55" y="839.27" font-size="10" text-anchor="middle" dominant-baseline="central" fill="#111" font-style="italic" transform="rotate(325.3 465.55 839.27)">&#947;</text>
<text x="472.10" y="879.30" font-size="11.4" text-anchor="middle" dominant-baseline="central" fill="#1a1a1a" textLength="24.5" lengthAdjust="spacingAndGlyphs" transform="rotate(38.9 472.10 879.30)">VAN</text>
<path d="M449.16 830.37A116.7 116.7 0 0 1 453.88 717.67L457.05 719.59A113.0 113.0 0 0 0 452.47 828.72Z" fill="#8ADBA3" stroke="#2a2a2a" stroke-width="0.55" stroke-opacity="0.8"/>
<text x="457.75" y="826.09" font-size="10" text-anchor="middle" dominant-baseline="central" fill="#111" font-style="italic" transform="rotate(333.5 457.75 826.09)">&#952;</text>
<text x="447.35" y="791.79" font-size="10" text-anchor="middle" dominant-baseline="central" fill="#111" font-style="italic" transform="rotate(352.8 447.35 791.79)">&#945;</text>
<text x="448.85" y="755.97" font-size="10" text-anchor="middle" dominant-baseline="central" fill="#111" font-style="italic" transform="rotate(372.0 448.85 755.97)">&#946;</text>
<text x="462.09" y="722.66" font-size="10" text-anchor="middle" dominant-baseline="central" fill="#111" font-style="italic" transform="rotate(391.3 462.09 722.66)">&#947;</text>
<text x="428.90" y="777.75" font-size="11.4" text-anchor="middle" dominant-baseline="central" fill="#1a1a1a" textLength="25.3" lengthAdjust="spacingAndGlyphs" transform="rotate(-89.7 428.90 777.75)">SMN</text>
<path d="M463.81 703.76A116.7 116.7 0 0 1 545.26 661.90L545.52 665.59A113.0 113.0 0 0 0 466.66 706.12Z" fill="#53ABAD" stroke="#2a2a2a" stroke-width="0.55" stroke-opacity="0.8"/>
<text x="471.20" y="709.89" font-size="10" text-anchor="middle" dominant-baseline="central" fill="#111" font-style="italic" transform="rotate(399.7 471.20 709.89)">&#952;</text>
<text x="492.32" y="690.46" font-size="10" text-anchor="middle" dominant-baseline="central" fill="#111" font-style="italic" transform="rotate(415.1 492.32 690.46)">&#945;</text>
<text x="517.85" y="677.34" font-size="10" text-anchor="middle" dominant-baseline="central" fill="#111" font-style="italic" transform="rotate(430.5 517.85 677.34)">&#946;</text>
<text x="545.94" y="671.47" font-size="10" text-anchor="middle" dominant-baseline="central" fill="#111" font-style="italic" transform="rotate(445.9 545.94 671.47)">&#947;</text>
<text x="492.80" y="670.30" font-size="11.4" text-anchor="middle" dominant-baseline="central" fill="#1a1a1a" textLength="17.0" lengthAdjust="spacingAndGlyphs" transform="rotate(-29.4 492.80 670.30)">VN</text>
<path d="M567.96 877.97Q553.60 778.30 467.56 725.98" fill="none" stroke="#B9B0EE" stroke-opacity="0.75" stroke-width="1.3" stroke-linecap="round"/>
<path d="M474.67 725.03L467.56 725.98L469.98 732.74" fill="none" stroke="#B9B0EE" stroke-opacity="0.85" stroke-width="1.3" stroke-linejoin="miter" stroke-linecap="round"/>
<path d="M567.96 877.97Q553.60 778.30 455.11 757.31" fill="none" stroke="#B9B0EE" stroke-opacity="0.75" stroke-width="2.4" stroke-linecap="round"/>
<path d="M462.32 753.44L455.11 757.31L460.11 763.77" fill="none" stroke="#B9B0EE" stroke-opacity="0.85" stroke-width="2.4" stroke-linejoin="miter" stroke-linecap="round"/>
<path d="M567.96 877.97Q553.60 778.30 470.81 835.63" fill="none" stroke="#B9B0EE" stroke-opacity="0.75" stroke-width="1.0" stroke-linecap="round"/>
<path d="M472.80 829.02L470.81 835.63L477.70 836.09" fill="none" stroke="#B9B0EE" stroke-opacity="0.85" stroke-width="1.0" stroke-linejoin="miter" stroke-linecap="round"/>
<path d="M567.96 877.97Q553.60 778.30 484.50 851.55" fill="none" stroke="#B9B0EE" stroke-opacity="0.75" stroke-width="1.6" stroke-linecap="round"/>
<path d="M485.02 844.12L484.50 851.55L491.88 850.60" fill="none" stroke="#B9B0EE" stroke-opacity="0.85" stroke-width="1.6" stroke-linejoin="miter" stroke-linecap="round"/>
<path d="M567.96 877.97Q553.60 778.30 601.08 867.10" fill="none" stroke="#B9B0EE" stroke-opacity="0.75" stroke-width="1.3" stroke-linecap="round"/>
<path d="M594.47 864.31L601.08 867.10L602.43 860.06" fill="none" stroke="#B9B0EE" stroke-opacity="0.85" stroke-width="1.3" stroke-linejoin="miter" stroke-linecap="round"/>
<use href="#bk" transform="translate(0.000 0.000) scale(1.0000 1.0000)"/>
<use href="#sd" transform="translate(0.000 0.000) scale(1.0000 1.0000)"/>
<use href="#tp" transform="translate(0.000 0.000) scale(1.0000 1.0000)"/>
<use href="#bk" transform="translate(-0.499 310.131) scale(1.0261 1.0197)"/>
<use href="#sd" transform="translate(3.494 309.692) scale(0.9984 1.0229)"/>
<use href="#tp" transform="translate(-0.823 310.135) scale(1.0283 1.0258)"/>
<use href="#bk" transform="translate(-0.499 619.201) scale(1.0261 1.0282)"/>
<use href="#sd" transform="translate(2.912 619.692) scale(1.0031 1.0229)"/>
<use href="#tp" transform="translate(-0.823 619.763) scale(1.0283 1.0283)"/>
<path d="M44.8 125.5L48.9 71.1" stroke="#A51E24" stroke-width="1.35" fill="none"/><path d="M49.2 67.4L51.0 72.0L46.8 71.7Z" fill="#A51E24"/><path d="M39.0 116.0L48.1 71.6" stroke="#A51E24" stroke-width="1.35" fill="none"/><path d="M48.8 68.0L50.0 72.8L45.8 72.0Z" fill="#A51E24"/><path d="M51.5 118.0L49.7 71.3" stroke="#A51E24" stroke-width="1.35" fill="none"/><path d="M49.6 67.6L51.9 72.0L47.7 72.2Z" fill="#A51E24"/><path d="M31.7 74.0L78.2 104.8" stroke="#A51E24" stroke-width="1.35" fill="none"/><path d="M81.3 106.8L76.4 106.1L78.7 102.6Z" fill="#A51E24"/><path d="M51.0 91.0L77.7 104.8" stroke="#A51E24" stroke-width="1.35" fill="none"/><path d="M81.0 106.5L76.0 106.3L78.0 102.6Z" fill="#A51E24"/><path d="M51.4 105.4L35.8 90.4" stroke="#A51E24" stroke-width="1.35" fill="none"/><path d="M33.1 87.8L37.8 89.4L34.9 92.4Z" fill="#A51E24"/><path d="M41.2 110.5L31.0 109.4" stroke="#A51E24" stroke-width="1.35" fill="none"/><path d="M27.3 109.0L32.0 107.4L31.5 111.6Z" fill="#A51E24"/><path d="M51.4 106.1L93.8 68.5" stroke="#A51E24" stroke-width="1.35" fill="none"/><path d="M96.6 66.0L94.6 70.6L91.8 67.4Z" fill="#A51E24"/><path d="M53.6 110.5L94.0 68.7" stroke="#A51E24" stroke-width="1.35" fill="none"/><path d="M96.6 66.0L95.0 70.7L92.0 67.8Z" fill="#A51E24"/><path d="M45.0 112.0L93.2 69.0" stroke="#A51E24" stroke-width="1.35" fill="none"/><path d="M96.0 66.5L94.0 71.1L91.2 67.9Z" fill="#A51E24"/><path d="M92.0 71.0L102.2 59.9" stroke="#A51E24" stroke-width="1.35" fill="none"/><path d="M104.7 57.2L103.2 61.9L100.1 59.1Z" fill="#A51E24"/><path d="M95.9 68.9L86.1 101.1" stroke="#A51E24" stroke-width="1.35" fill="none"/><path d="M85.0 104.6L84.3 99.7L88.3 100.9Z" fill="#A51E24"/><path d="M99.6 98.8L48.8 123.5" stroke="#A51E24" stroke-width="1.35" fill="none"/><path d="M45.5 125.1L48.6 121.2L50.5 125.0Z" fill="#A51E24"/><path d="M50.7 91.5L98.6 120.3" stroke="#A51E24" stroke-width="1.35" fill="none"/><path d="M101.8 122.2L96.9 121.7L99.0 118.1Z" fill="#A51E24"/><path d="M180.8 58.2L181.5 109.1" stroke="#A51E24" stroke-width="1.35" fill="none"/><path d="M181.6 112.8L179.4 108.3L183.6 108.3Z" fill="#A51E24"/><path d="M167.9 68.7L180.3 109.0" stroke="#A51E24" stroke-width="1.35" fill="none"/><path d="M181.4 112.5L178.1 108.8L182.1 107.6Z" fill="#A51E24"/><path d="M168.5 68.0L225.0 105.2" stroke="#A51E24" stroke-width="1.35" fill="none"/><path d="M228.1 107.2L223.2 106.5L225.5 103.0Z" fill="#A51E24"/><path d="M145.4 71.1L221.5 103.4" stroke="#A51E24" stroke-width="1.35" fill="none"/><path d="M224.9 104.8L219.9 105.0L221.6 101.1Z" fill="#A51E24"/><path d="M192.8 117.6L216.8 70.3" stroke="#A51E24" stroke-width="1.35" fill="none"/><path d="M218.5 67.0L218.3 72.0L214.6 70.1Z" fill="#A51E24"/><path d="M196.0 120.8L217.1 70.4" stroke="#A51E24" stroke-width="1.35" fill="none"/><path d="M218.5 67.0L218.7 72.0L214.8 70.3Z" fill="#A51E24"/><path d="M205.5 119.0L217.6 70.6" stroke="#A51E24" stroke-width="1.35" fill="none"/><path d="M218.5 67.0L219.4 71.9L215.4 70.9Z" fill="#A51E24"/><path d="M208.9 115.5L217.8 70.6" stroke="#A51E24" stroke-width="1.35" fill="none"/><path d="M218.5 67.0L219.7 71.8L215.6 71.0Z" fill="#A51E24"/><path d="M138.2 100.8L191.0 124.2" stroke="#A51E24" stroke-width="1.35" fill="none"/><path d="M194.4 125.7L189.4 125.8L191.1 122.0Z" fill="#A51E24"/><path d="M180.8 113.6L163.9 104.2" stroke="#A51E24" stroke-width="1.35" fill="none"/><path d="M160.7 102.4L165.7 102.8L163.6 106.4Z" fill="#A51E24"/><path d="M239.4 94.3L199.1 120.4" stroke="#A51E24" stroke-width="1.35" fill="none"/><path d="M196.0 122.4L198.6 118.2L200.9 121.7Z" fill="#A51E24"/><path d="M181.6 112.8L202.9 94.4" stroke="#A51E24" stroke-width="1.35" fill="none"/><path d="M205.7 92.0L203.7 96.5L200.9 93.4Z" fill="#A51E24"/><path d="M286.9 43.5L337.2 82.0" stroke="#A51E24" stroke-width="1.35" fill="none"/><path d="M340.1 84.3L335.3 83.2L337.8 79.9Z" fill="#A51E24"/><path d="M269.9 123.0L319.6 53.8" stroke="#A51E24" stroke-width="1.35" fill="none"/><path d="M321.8 50.8L320.9 55.7L317.5 53.2Z" fill="#A51E24"/><path d="M321.8 50.8L334.7 110.2" stroke="#A51E24" stroke-width="1.35" fill="none"/><path d="M335.5 113.8L332.5 109.8L336.6 109.0Z" fill="#A51E24"/><path d="M287.6 86.2L287.0 65.0" stroke="#A51E24" stroke-width="1.35" fill="none"/><path d="M286.9 61.3L289.1 65.7L284.9 65.9Z" fill="#A51E24"/><path d="M277.1 70.5L284.2 64.0" stroke="#A51E24" stroke-width="1.35" fill="none"/><path d="M286.9 61.5L285.0 66.1L282.2 63.0Z" fill="#A51E24"/><path d="M283.0 82.3L285.9 65.6" stroke="#A51E24" stroke-width="1.35" fill="none"/><path d="M286.5 62.0L287.8 66.8L283.7 66.1Z" fill="#A51E24"/><path d="M294.8 98.7L272.3 71.4" stroke="#A51E24" stroke-width="1.35" fill="none"/><path d="M269.9 68.5L274.4 70.6L271.1 73.3Z" fill="#A51E24"/><path d="M288.2 98.7L267.4 104.9" stroke="#A51E24" stroke-width="1.35" fill="none"/><path d="M263.9 106.0L267.6 102.7L268.8 106.7Z" fill="#A51E24"/><path d="M289.6 98.7L289.6 114.1" stroke="#A51E24" stroke-width="1.35" fill="none"/><path d="M289.6 117.8L287.5 113.3L291.7 113.3Z" fill="#A51E24"/><path d="M340.8 99.0L293.7 98.7" stroke="#A51E24" stroke-width="1.35" fill="none"/><path d="M290.0 98.7L294.5 96.6L294.5 100.8Z" fill="#A51E24"/><path d="M290.0 98.7L332.0 112.6" stroke="#A51E24" stroke-width="1.35" fill="none"/><path d="M335.5 113.8L330.6 114.4L331.9 110.4Z" fill="#A51E24"/><path d="M336.2 140.1L295.4 99.4" stroke="#A51E24" stroke-width="1.35" fill="none"/><path d="M292.8 96.8L297.5 98.5L294.5 101.5Z" fill="#A51E24"/><path d="M106.1 734.9L33.4 692.9" stroke="#A51E24" stroke-width="1.35" fill="none"/><path d="M30.2 691.1L35.1 691.5L33.0 695.2Z" fill="#A51E24"/><path d="M50.7 740.7L50.7 691.8" stroke="#A51E24" stroke-width="1.35" fill="none"/><path d="M50.7 688.1L52.8 692.6L48.6 692.6Z" fill="#A51E24"/><path d="M87.2 737.0L36.8 739.0" stroke="#A51E24" stroke-width="1.35" fill="none"/><path d="M33.1 739.2L37.5 736.9L37.7 741.1Z" fill="#A51E24"/><path d="M53.6 734.9L69.8 692.4" stroke="#A51E24" stroke-width="1.35" fill="none"/><path d="M71.1 688.9L71.5 693.9L67.5 692.4Z" fill="#A51E24"/><path d="M75.5 733.4L103.6 685.7" stroke="#A51E24" stroke-width="1.35" fill="none"/><path d="M105.5 682.5L105.0 687.4L101.4 685.3Z" fill="#A51E24"/><path d="M41.9 707.8L101.5 741.1" stroke="#A51E24" stroke-width="1.35" fill="none"/><path d="M104.7 742.9L99.7 742.5L101.8 738.9Z" fill="#A51E24"/><path d="M69.6 695.4L102.0 739.0" stroke="#A51E24" stroke-width="1.35" fill="none"/><path d="M104.2 742.0L99.8 739.6L103.2 737.1Z" fill="#A51E24"/><path d="M90.1 746.5L102.7 726.3" stroke="#A51E24" stroke-width="1.35" fill="none"/><path d="M104.7 723.2L104.1 728.1L100.5 725.9Z" fill="#A51E24"/><path d="M33.1 717.3L70.5 731.4" stroke="#A51E24" stroke-width="1.35" fill="none"/><path d="M74.0 732.7L69.0 733.1L70.5 729.1Z" fill="#A51E24"/><path d="M41.9 707.8L61.2 727.8" stroke="#A51E24" stroke-width="1.35" fill="none"/><path d="M63.8 730.5L59.2 728.7L62.2 725.8Z" fill="#A51E24"/><path d="M56.5 732.0L92.8 707.8" stroke="#A51E24" stroke-width="1.35" fill="none"/><path d="M95.9 705.7L93.3 709.9L91.0 706.5Z" fill="#A51E24"/><path d="M27.5 731.0L29.4 735.1" stroke="#A51E24" stroke-width="1.35" fill="none"/><path d="M31.0 738.5L27.2 735.3L31.0 733.5Z" fill="#A51E24"/><path d="M171.6 680.4L215.5 727.8" stroke="#A51E24" stroke-width="1.35" fill="none"/><path d="M218.0 730.5L213.4 728.6L216.5 725.8Z" fill="#A51E24"/><path d="M170.3 689.4L195.3 736.2" stroke="#A51E24" stroke-width="1.35" fill="none"/><path d="M197.0 739.5L193.0 736.5L196.7 734.5Z" fill="#A51E24"/><path d="M182.0 735.2L188.4 695.9" stroke="#A51E24" stroke-width="1.35" fill="none"/><path d="M189.0 692.2L190.3 697.0L186.2 696.3Z" fill="#A51E24"/><path d="M192.4 690.8L197.1 735.3" stroke="#A51E24" stroke-width="1.35" fill="none"/><path d="M197.5 739.0L194.9 734.7L199.1 734.3Z" fill="#A51E24"/><path d="M180.7 706.1L214.9 729.4" stroke="#A51E24" stroke-width="1.35" fill="none"/><path d="M218.0 731.5L213.1 730.7L215.5 727.2Z" fill="#A51E24"/><path d="M159.2 717.9L211.9 730.2" stroke="#A51E24" stroke-width="1.35" fill="none"/><path d="M215.5 731.0L210.6 732.0L211.6 727.9Z" fill="#A51E24"/><path d="M198.5 740.0L222.1 691.3" stroke="#A51E24" stroke-width="1.35" fill="none"/><path d="M223.7 688.0L223.6 693.0L219.8 691.1Z" fill="#A51E24"/><path d="M241.0 699.8L206.7 736.6" stroke="#A51E24" stroke-width="1.35" fill="none"/><path d="M204.2 739.3L205.7 734.6L208.8 737.4Z" fill="#A51E24"/><path d="M238.2 735.2L215.5 741.2" stroke="#A51E24" stroke-width="1.35" fill="none"/><path d="M211.9 742.1L215.7 738.9L216.8 743.0Z" fill="#A51E24"/><path d="M181.0 705.0L194.0 734.6" stroke="#A51E24" stroke-width="1.35" fill="none"/><path d="M195.5 738.0L191.8 734.7L195.6 733.0Z" fill="#A51E24"/><path d="M205.0 735.0L185.3 709.9" stroke="#A51E24" stroke-width="1.35" fill="none"/><path d="M183.0 707.0L187.4 709.2L184.1 711.8Z" fill="#A51E24"/><path d="M312.0 666.3L345.7 701.7" stroke="#A51E24" stroke-width="1.35" fill="none"/><path d="M348.2 704.4L343.6 702.6L346.6 699.7Z" fill="#A51E24"/><path d="M319.9 668.3L346.1 692.7" stroke="#A51E24" stroke-width="1.35" fill="none"/><path d="M348.8 695.2L344.1 693.7L346.9 690.6Z" fill="#A51E24"/><path d="M291.7 720.2L294.7 686.4" stroke="#A51E24" stroke-width="1.35" fill="none"/><path d="M295.0 682.7L296.7 687.4L292.5 687.0Z" fill="#A51E24"/><path d="M289.7 720.2L305.1 690.6" stroke="#A51E24" stroke-width="1.35" fill="none"/><path d="M306.8 687.3L306.6 692.3L302.9 690.3Z" fill="#A51E24"/><path d="M289.7 720.2L315.5 691.5" stroke="#A51E24" stroke-width="1.35" fill="none"/><path d="M318.0 688.7L316.6 693.5L313.4 690.6Z" fill="#A51E24"/><path d="M306.8 687.3L339.0 718.9" stroke="#A51E24" stroke-width="1.35" fill="none"/><path d="M341.6 721.5L336.9 719.8L339.9 716.8Z" fill="#A51E24"/><path d="M318.0 688.7L346.7 729.0" stroke="#A51E24" stroke-width="1.35" fill="none"/><path d="M348.8 732.0L344.5 729.6L347.9 727.1Z" fill="#A51E24"/><path d="M334.4 720.2L283.4 703.0" stroke="#A51E24" stroke-width="1.35" fill="none"/><path d="M279.9 701.8L284.8 701.2L283.5 705.2Z" fill="#A51E24"/><path d="M348.8 724.8L276.3 714.8" stroke="#A51E24" stroke-width="1.35" fill="none"/><path d="M272.6 714.3L277.3 712.8L276.8 717.0Z" fill="#A51E24"/><path d="M314.7 714.3L345.2 707.8" stroke="#A51E24" stroke-width="1.35" fill="none"/><path d="M348.8 707.0L344.8 710.0L344.0 705.9Z" fill="#A51E24"/><path d="M293.0 722.0L290.4 724.3" stroke="#A51E24" stroke-width="1.35" fill="none"/><path d="M287.7 726.8L289.6 722.2L292.4 725.3Z" fill="#A51E24"/><path d="M298.9 716.2L317.3 735.2" stroke="#A51E24" stroke-width="1.35" fill="none"/><path d="M319.9 737.9L315.3 736.1L318.3 733.2Z" fill="#A51E24"/><path d="M313.0 693.0L281.2 740.7" stroke="#A51E24" stroke-width="1.35" fill="none"/><path d="M279.2 743.8L279.9 738.9L283.4 741.2Z" fill="#A51E24"/><path d="M35.3 367.9L65.5 418.0" stroke="#3A6FC2" stroke-width="1.35" fill="none"/><path d="M67.4 421.2L63.3 418.4L66.9 416.3Z" fill="#3A6FC2"/><path d="M54.3 374.0L91.0 429.8" stroke="#3A6FC2" stroke-width="1.35" fill="none"/><path d="M93.0 432.9L88.8 430.3L92.3 428.0Z" fill="#3A6FC2"/><path d="M106.1 423.4L80.2 376.2" stroke="#B5262C" stroke-width="1.35" fill="none"/><path d="M78.4 373.0L82.4 375.9L78.7 378.0Z" fill="#B5262C"/><path d="M106.1 411.7L92.8 432.7" stroke="#B5262C" stroke-width="1.35" fill="none"/><path d="M90.8 435.8L91.4 430.9L95.0 433.1Z" fill="#B5262C"/><path d="M68.2 421.2L70.8 384.0" stroke="#B5262C" stroke-width="1.35" fill="none"/><path d="M71.1 380.3L72.9 384.9L68.7 384.6Z" fill="#B5262C"/><path d="M51.4 431.4L93.1 370.6" stroke="#3A6FC2" stroke-width="1.35" fill="none"/><path d="M95.2 367.5L94.4 372.4L90.9 370.0Z" fill="#3A6FC2"/><path d="M76.9 407.3L57.5 417.9" stroke="#3A6FC2" stroke-width="1.35" fill="none"/><path d="M54.3 419.7L57.2 415.7L59.3 419.4Z" fill="#3A6FC2"/><path d="M181.0 425.4L180.0 377.7" stroke="#B5262C" stroke-width="1.35" fill="none"/><path d="M179.9 374.0L182.1 378.5L177.9 378.5Z" fill="#B5262C"/><path d="M181.6 368.2L215.7 417.7" stroke="#3A6FC2" stroke-width="1.35" fill="none"/><path d="M217.8 420.7L213.5 418.2L217.0 415.8Z" fill="#3A6FC2"/><path d="M216.1 418.4L193.6 384.7" stroke="#B5262C" stroke-width="1.35" fill="none"/><path d="M191.5 381.6L195.7 384.2L192.3 386.5Z" fill="#B5262C"/><path d="M197.4 431.2L211.2 371.8" stroke="#3A6FC2" stroke-width="1.35" fill="none"/><path d="M212.0 368.2L213.0 373.1L208.9 372.1Z" fill="#3A6FC2"/><path d="M216.6 433.6L218.3 376.5" stroke="#3A6FC2" stroke-width="1.35" fill="none"/><path d="M218.4 372.8L220.4 377.4L216.2 377.2Z" fill="#3A6FC2"/><path d="M161.8 407.3L213.6 419.8" stroke="#3A6FC2" stroke-width="1.35" fill="none"/><path d="M217.2 420.7L212.3 421.7L213.3 417.6Z" fill="#3A6FC2"/><path d="M224.8 413.1L205.7 433.8" stroke="#B5262C" stroke-width="1.35" fill="none"/><path d="M203.2 436.5L204.7 431.8L207.8 434.6Z" fill="#B5262C"/><path d="M338.3 379.7L301.3 378.5" stroke="#3A6FC2" stroke-width="1.35" fill="none"/><path d="M297.6 378.4L302.2 376.4L302.0 380.6Z" fill="#3A6FC2"/><path d="M279.9 414.5L308.3 381.4" stroke="#3A6FC2" stroke-width="1.35" fill="none"/><path d="M310.7 378.6L309.4 383.4L306.2 380.6Z" fill="#3A6FC2"/><path d="M321.9 434.9L299.7 382.7" stroke="#3A6FC2" stroke-width="1.35" fill="none"/><path d="M298.2 379.3L301.9 382.6L298.0 384.3Z" fill="#3A6FC2"/><path d="M296.3 399.4L336.1 385.0" stroke="#3A6FC2" stroke-width="1.35" fill="none"/><path d="M339.6 383.7L336.1 387.2L334.7 383.3Z" fill="#3A6FC2"/><path d="M312.0 379.0L315.4 399.7" stroke="#B5262C" stroke-width="1.35" fill="none"/><path d="M316.0 403.4L313.2 399.3L317.3 398.6Z" fill="#B5262C"/><path d="M348.2 371.2L336.3 390.4" stroke="#B5262C" stroke-width="1.35" fill="none"/><path d="M334.4 393.5L335.0 388.6L338.6 390.8Z" fill="#B5262C"/><path d="M350.1 415.2L328.9 416.3" stroke="#B5262C" stroke-width="1.35" fill="none"/><path d="M325.2 416.5L329.6 414.2L329.8 418.4Z" fill="#B5262C"/>
</svg></body></html>
